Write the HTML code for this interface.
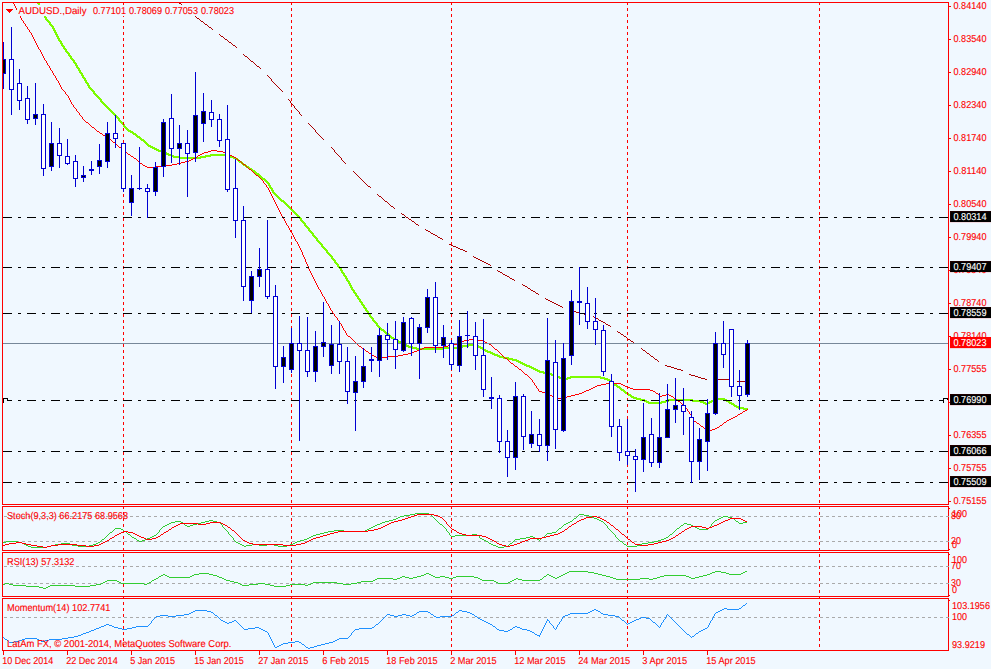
<!DOCTYPE html>
<html><head><meta charset="utf-8"><title>AUDUSD Daily</title>
<style>html,body{margin:0;padding:0;background:#F0F8FF;overflow:hidden}svg{display:block}</style>
</head><body>
<svg width="991" height="669" viewBox="0 0 991 669" shape-rendering="crispEdges">
<rect x="0" y="0" width="991" height="669" fill="#F0F8FF"/>
<path fill="#7CFC00" d="M37 3h3v1h-3zM38 4h2v1h-2zM38 5h3v1h-3zM39 6h2v1h-2zM39 7h3v1h-3zM40 8h2v1h-2zM40 9h3v1h-3zM41 10h2v1h-2zM41 11h3v1h-3zM42 12h2v1h-2zM42 13h3v1h-3zM43 14h2v1h-2zM43 15h3v1h-3zM44 16h2v1h-2zM44 17h3v1h-3zM45 18h2v1h-2zM45 19h3v1h-3zM46 20h3v1h-3zM47 21h3v1h-3zM48 22h3v1h-3zM49 23h2v1h-2zM49 24h3v1h-3zM50 25h3v1h-3zM51 26h3v1h-3zM52 27h2v1h-2zM52 28h3v1h-3zM53 29h2v1h-2zM53 30h3v1h-3zM54 31h2v1h-2zM54 32h3v1h-3zM55 33h2v1h-2zM55 34h3v1h-3zM56 35h2v1h-2zM56 36h3v1h-3zM57 37h2v1h-2zM57 38h3v1h-3zM58 39h2v1h-2zM58 40h3v1h-3zM59 41h3v1h-3zM60 42h2v1h-2zM60 43h3v1h-3zM61 44h2v1h-2zM61 45h3v1h-3zM62 46h3v1h-3zM63 47h2v1h-2zM63 48h3v1h-3zM64 49h3v1h-3zM65 50h2v1h-2zM65 51h3v1h-3zM66 52h3v1h-3zM67 53h3v1h-3zM68 54h2v1h-2zM68 55h3v1h-3zM69 56h3v1h-3zM70 57h2v1h-2zM70 58h3v1h-3zM71 59h3v1h-3zM72 60h3v1h-3zM73 61h2v1h-2zM73 62h3v1h-3zM74 63h3v1h-3zM75 64h2v1h-2zM75 65h3v1h-3zM76 66h2v1h-2zM76 67h3v1h-3zM77 68h3v1h-3zM78 69h2v1h-2zM78 70h3v1h-3zM79 71h2v1h-2zM79 72h3v1h-3zM80 73h3v1h-3zM81 74h2v1h-2zM81 75h3v1h-3zM82 76h2v1h-2zM82 77h3v1h-3zM83 78h3v1h-3zM84 79h2v1h-2zM84 80h3v1h-3zM85 81h2v1h-2zM85 82h3v1h-3zM86 83h3v1h-3zM87 84h2v1h-2zM87 85h3v1h-3zM88 86h2v1h-2zM88 87h3v1h-3zM89 88h3v1h-3zM90 89h3v1h-3zM91 90h3v1h-3zM92 91h3v1h-3zM93 92h2v1h-2zM93 93h3v1h-3zM94 94h3v1h-3zM95 95h3v1h-3zM96 96h3v1h-3zM97 97h3v1h-3zM98 98h3v1h-3zM99 99h3v1h-3zM100 100h2v1h-2zM100 101h3v1h-3zM101 102h3v1h-3zM102 103h3v1h-3zM103 104h3v1h-3zM104 105h3v1h-3zM105 106h3v1h-3zM106 107h3v1h-3zM107 108h3v1h-3zM108 109h3v1h-3zM109 110h3v1h-3zM110 111h3v1h-3zM111 112h3v1h-3zM112 113h3v1h-3zM113 114h3v1h-3zM114 115h3v1h-3zM115 116h3v1h-3zM116 117h3v1h-3zM117 118h3v1h-3zM118 119h2v1h-2zM118 120h3v1h-3zM119 121h3v1h-3zM120 122h3v1h-3zM121 123h3v1h-3zM122 124h3v1h-3zM123 125h2v1h-2zM123 126h3v1h-3zM124 127h3v1h-3zM125 128h3v1h-3zM126 129h3v1h-3zM127 130h4v1h-4zM128 131h5v1h-5zM130 132h4v1h-4zM132 133h4v1h-4zM133 134h4v1h-4zM135 135h3v1h-3zM136 136h4v1h-4zM137 137h4v1h-4zM139 138h3v1h-3zM140 139h4v1h-4zM141 140h4v1h-4zM143 141h3v1h-3zM144 142h3v1h-3zM145 143h3v1h-3zM146 144h3v1h-3zM147 145h4v1h-4zM148 146h5v1h-5zM150 147h5v1h-5zM152 148h5v1h-5zM154 149h5v1h-5zM156 150h6v1h-6zM158 151h6v1h-6zM161 152h6v1h-6zM163 153h6v1h-6zM166 154h6v1h-6zM210 154h17v1h-17zM168 155h6v1h-6zM205 155h26v1h-26zM171 156h9v1h-9zM200 156h11v1h-11zM226 156h8v1h-8zM173 157h33v1h-33zM230 157h6v1h-6zM179 158h22v1h-22zM233 158h5v1h-5zM235 159h4v1h-4zM237 160h3v1h-3zM238 161h4v1h-4zM239 162h4v1h-4zM241 163h3v1h-3zM242 164h4v1h-4zM243 165h4v1h-4zM245 166h4v1h-4zM246 167h4v1h-4zM248 168h4v1h-4zM249 169h4v1h-4zM251 170h4v1h-4zM252 171h4v1h-4zM254 172h3v1h-3zM255 173h4v1h-4zM256 174h4v1h-4zM258 175h3v1h-3zM259 176h3v1h-3zM260 177h3v1h-3zM261 178h4v1h-4zM262 179h4v1h-4zM264 180h3v1h-3zM265 181h3v1h-3zM266 182h3v1h-3zM267 183h3v1h-3zM268 184h2v1h-2zM268 185h3v1h-3zM269 186h2v1h-2zM269 187h3v1h-3zM270 188h3v1h-3zM271 189h2v1h-2zM271 190h3v1h-3zM272 191h2v1h-2zM272 192h3v1h-3zM273 193h3v1h-3zM274 194h3v1h-3zM275 195h3v1h-3zM276 196h3v1h-3zM277 197h3v1h-3zM278 198h3v1h-3zM279 199h3v1h-3zM280 200h4v1h-4zM281 201h4v1h-4zM283 202h3v1h-3zM284 203h3v1h-3zM285 204h3v1h-3zM286 205h3v1h-3zM287 206h3v1h-3zM288 207h3v1h-3zM289 208h3v1h-3zM290 209h3v1h-3zM291 210h3v1h-3zM292 211h3v1h-3zM293 212h3v1h-3zM294 213h3v1h-3zM295 214h3v1h-3zM296 215h3v1h-3zM297 216h3v1h-3zM298 217h3v1h-3zM299 218h3v1h-3zM300 219h2v1h-2zM300 220h3v1h-3zM301 221h3v1h-3zM302 222h3v1h-3zM303 223h3v1h-3zM304 224h2v1h-2zM304 225h3v1h-3zM305 226h3v1h-3zM306 227h3v1h-3zM307 228h3v1h-3zM308 229h2v1h-2zM308 230h3v1h-3zM309 231h3v1h-3zM310 232h3v1h-3zM311 233h3v1h-3zM312 234h2v1h-2zM312 235h3v1h-3zM313 236h3v1h-3zM314 237h3v1h-3zM315 238h3v1h-3zM316 239h2v1h-2zM316 240h3v1h-3zM317 241h3v1h-3zM318 242h3v1h-3zM319 243h3v1h-3zM320 244h3v1h-3zM321 245h2v1h-2zM321 246h3v1h-3zM322 247h3v1h-3zM323 248h3v1h-3zM324 249h3v1h-3zM325 250h3v1h-3zM326 251h2v1h-2zM326 252h3v1h-3zM327 253h3v1h-3zM328 254h3v1h-3zM329 255h3v1h-3zM330 256h3v1h-3zM331 257h2v1h-2zM331 258h3v1h-3zM332 259h3v1h-3zM333 260h3v1h-3zM334 261h2v1h-2zM334 262h3v1h-3zM335 263h3v1h-3zM336 264h3v1h-3zM337 265h2v1h-2zM337 266h3v1h-3zM338 267h3v1h-3zM339 268h3v1h-3zM340 269h2v1h-2zM340 270h3v1h-3zM341 271h2v1h-2zM341 272h3v1h-3zM342 273h3v1h-3zM343 274h2v1h-2zM343 275h3v1h-3zM344 276h3v1h-3zM345 277h2v1h-2zM345 278h3v1h-3zM346 279h2v1h-2zM346 280h3v1h-3zM347 281h3v1h-3zM348 282h2v1h-2zM348 283h3v1h-3zM349 284h2v1h-2zM349 285h3v1h-3zM350 286h2v1h-2zM350 287h3v1h-3zM351 288h2v1h-2zM351 289h3v1h-3zM352 290h3v1h-3zM353 291h2v1h-2zM353 292h3v1h-3zM354 293h3v1h-3zM355 294h2v1h-2zM355 295h3v1h-3zM356 296h3v1h-3zM357 297h2v1h-2zM357 298h3v1h-3zM358 299h3v1h-3zM359 300h2v1h-2zM359 301h3v1h-3zM360 302h3v1h-3zM361 303h2v1h-2zM361 304h3v1h-3zM362 305h3v1h-3zM363 306h2v1h-2zM363 307h3v1h-3zM364 308h3v1h-3zM365 309h2v1h-2zM365 310h3v1h-3zM366 311h3v1h-3zM367 312h2v1h-2zM367 313h3v1h-3zM368 314h3v1h-3zM369 315h2v1h-2zM369 316h3v1h-3zM370 317h3v1h-3zM371 318h3v1h-3zM372 319h2v1h-2zM372 320h3v1h-3zM373 321h3v1h-3zM374 322h3v1h-3zM375 323h3v1h-3zM376 324h2v1h-2zM376 325h3v1h-3zM377 326h3v1h-3zM378 327h3v1h-3zM379 328h3v1h-3zM380 329h4v1h-4zM381 330h4v1h-4zM383 331h3v1h-3zM384 332h3v1h-3zM385 333h4v1h-4zM386 334h4v1h-4zM388 335h3v1h-3zM389 336h3v1h-3zM390 337h4v1h-4zM391 338h4v1h-4zM393 339h4v1h-4zM394 340h5v1h-5zM396 341h5v1h-5zM398 342h5v1h-5zM400 343h5v1h-5zM402 344h5v1h-5zM468 344h7v1h-7zM404 345h5v1h-5zM462 345h17v1h-17zM406 346h7v1h-7zM457 346h12v1h-12zM474 346h7v1h-7zM408 347h9v1h-9zM443 347h20v1h-20zM478 347h5v1h-5zM412 348h46v1h-46zM480 348h4v1h-4zM416 349h28v1h-28zM482 349h4v1h-4zM483 350h5v1h-5zM485 351h6v1h-6zM487 352h6v1h-6zM490 353h5v1h-5zM492 354h6v1h-6zM494 355h6v1h-6zM497 356h7v1h-7zM499 357h10v1h-10zM503 358h10v1h-10zM508 359h9v1h-9zM512 360h7v1h-7zM516 361h5v1h-5zM518 362h5v1h-5zM520 363h5v1h-5zM522 364h5v1h-5zM524 365h6v1h-6zM526 366h6v1h-6zM529 367h5v1h-5zM531 368h5v1h-5zM533 369h5v1h-5zM535 370h5v1h-5zM537 371h7v1h-7zM539 372h9v1h-9zM543 373h9v1h-9zM547 374h8v1h-8zM551 375h7v1h-7zM554 376h6v1h-6zM570 376h31v1h-31zM557 377h5v1h-5zM567 377h38v1h-38zM559 378h12v1h-12zM600 378h8v1h-8zM561 379h7v1h-7zM604 379h6v1h-6zM607 380h4v1h-4zM609 381h4v1h-4zM610 382h4v1h-4zM612 383h3v1h-3zM613 384h4v1h-4zM614 385h4v1h-4zM616 386h4v1h-4zM617 387h4v1h-4zM619 388h3v1h-3zM620 389h4v1h-4zM621 390h4v1h-4zM623 391h3v1h-3zM624 392h4v1h-4zM625 393h4v1h-4zM627 394h4v1h-4zM628 395h4v1h-4zM630 396h4v1h-4zM631 397h6v1h-6zM633 398h8v1h-8zM716 398h9v1h-9zM636 399h9v1h-9zM668 399h25v1h-25zM713 399h14v1h-14zM640 400h7v1h-7zM665 400h36v1h-36zM711 400h6v1h-6zM724 400h5v1h-5zM644 401h5v1h-5zM661 401h8v1h-8zM692 401h12v1h-12zM709 401h5v1h-5zM726 401h4v1h-4zM646 402h20v1h-20zM700 402h6v1h-6zM707 402h5v1h-5zM728 402h4v1h-4zM648 403h14v1h-14zM703 403h7v1h-7zM729 403h5v1h-5zM705 404h3v1h-3zM731 404h4v1h-4zM733 405h4v1h-4zM734 406h5v1h-5zM736 407h8v1h-8zM738 408h10v1h-10zM743 409h5v1h-5z"/>
<path fill="#FF0000" d="M13 3h1v1h-1zM14 4h1v1h-1zM14 5h1v1h-1zM15 6h1v1h-1zM15 7h1v1h-1zM16 8h1v1h-1zM16 9h1v1h-1zM17 10h1v1h-1zM17 11h1v1h-1zM18 12h1v1h-1zM18 13h1v1h-1zM19 14h1v1h-1zM19 15h1v1h-1zM20 16h1v1h-1zM20 17h1v1h-1zM21 18h1v1h-1zM21 19h1v1h-1zM22 20h1v1h-1zM23 21h1v1h-1zM23 22h1v1h-1zM24 23h1v1h-1zM25 24h1v1h-1zM25 25h1v1h-1zM26 26h1v1h-1zM27 27h1v1h-1zM27 28h1v1h-1zM28 29h1v1h-1zM29 30h1v1h-1zM29 31h1v1h-1zM30 32h1v1h-1zM31 33h1v1h-1zM31 34h1v1h-1zM32 35h1v1h-1zM32 36h1v1h-1zM33 37h1v1h-1zM33 38h1v1h-1zM34 39h1v1h-1zM34 40h1v1h-1zM35 41h1v1h-1zM35 42h1v1h-1zM36 43h1v1h-1zM36 44h1v1h-1zM37 45h1v1h-1zM37 46h1v1h-1zM38 47h1v1h-1zM38 48h1v1h-1zM39 49h1v1h-1zM40 50h1v1h-1zM40 51h1v1h-1zM41 52h1v1h-1zM41 53h1v1h-1zM42 54h1v1h-1zM42 55h1v1h-1zM43 56h1v1h-1zM43 57h1v1h-1zM44 58h1v1h-1zM44 59h1v1h-1zM45 60h1v1h-1zM46 61h1v1h-1zM46 62h1v1h-1zM47 63h1v1h-1zM47 64h1v1h-1zM48 65h1v1h-1zM49 66h1v1h-1zM49 67h1v1h-1zM50 68h1v1h-1zM50 69h1v1h-1zM51 70h1v1h-1zM52 71h1v1h-1zM52 72h1v1h-1zM53 73h1v1h-1zM53 74h1v1h-1zM54 75h1v1h-1zM55 76h1v1h-1zM55 77h1v1h-1zM56 78h1v1h-1zM56 79h1v1h-1zM57 80h1v1h-1zM58 81h1v1h-1zM58 82h1v1h-1zM59 83h1v1h-1zM59 84h1v1h-1zM60 85h1v1h-1zM60 86h1v1h-1zM61 87h1v1h-1zM61 88h1v1h-1zM62 89h1v1h-1zM63 90h1v1h-1zM64 91h1v1h-1zM65 92h1v1h-1zM65 93h1v1h-1zM66 94h1v1h-1zM67 95h1v1h-1zM68 96h1v1h-1zM68 97h1v1h-1zM69 98h1v1h-1zM69 99h1v1h-1zM70 100h1v1h-1zM70 101h1v1h-1zM71 102h1v1h-1zM71 103h1v1h-1zM72 104h1v1h-1zM73 105h1v1h-1zM73 106h1v1h-1zM74 107h1v1h-1zM75 108h1v1h-1zM76 109h1v1h-1zM76 110h1v1h-1zM77 111h1v1h-1zM78 112h1v1h-1zM79 113h1v1h-1zM79 114h1v1h-1zM80 115h1v1h-1zM81 116h1v1h-1zM82 117h1v1h-1zM82 118h1v1h-1zM83 119h1v1h-1zM84 120h1v1h-1zM85 121h1v1h-1zM86 122h2v1h-2zM88 123h1v1h-1zM89 124h1v1h-1zM90 125h1v1h-1zM91 126h1v1h-1zM92 127h2v1h-2zM94 128h1v1h-1zM95 129h1v1h-1zM96 130h1v1h-1zM97 131h2v1h-2zM99 132h1v1h-1zM100 133h2v1h-2zM102 134h1v1h-1zM103 135h2v1h-2zM105 136h1v1h-1zM106 137h2v1h-2zM108 138h1v1h-1zM109 139h2v1h-2zM111 140h1v1h-1zM112 141h1v1h-1zM113 142h2v1h-2zM115 143h1v1h-1zM116 144h1v1h-1zM117 145h1v1h-1zM118 146h1v1h-1zM119 147h2v1h-2zM121 148h1v1h-1zM122 149h1v1h-1zM123 150h1v1h-1zM211 150h6v1h-6zM124 151h1v1h-1zM208 151h3v1h-3zM217 151h6v1h-6zM125 152h2v1h-2zM204 152h4v1h-4zM223 152h2v1h-2zM127 153h1v1h-1zM202 153h2v1h-2zM225 153h3v1h-3zM128 154h2v1h-2zM200 154h2v1h-2zM228 154h2v1h-2zM130 155h1v1h-1zM198 155h2v1h-2zM230 155h2v1h-2zM131 156h2v1h-2zM197 156h1v1h-1zM232 156h2v1h-2zM133 157h1v1h-1zM195 157h2v1h-2zM234 157h2v1h-2zM134 158h2v1h-2zM193 158h2v1h-2zM236 158h1v1h-1zM136 159h1v1h-1zM191 159h2v1h-2zM237 159h1v1h-1zM137 160h1v1h-1zM189 160h2v1h-2zM238 160h2v1h-2zM138 161h1v1h-1zM185 161h4v1h-4zM240 161h1v1h-1zM139 162h1v1h-1zM181 162h4v1h-4zM241 162h1v1h-1zM140 163h2v1h-2zM177 163h4v1h-4zM242 163h1v1h-1zM142 164h1v1h-1zM172 164h5v1h-5zM243 164h2v1h-2zM143 165h2v1h-2zM164 165h8v1h-8zM245 165h1v1h-1zM145 166h2v1h-2zM155 166h9v1h-9zM246 166h1v1h-1zM147 167h8v1h-8zM247 167h1v1h-1zM248 168h1v1h-1zM249 169h2v1h-2zM251 170h1v1h-1zM252 171h1v1h-1zM253 172h1v1h-1zM254 173h1v1h-1zM255 174h1v1h-1zM256 175h2v1h-2zM258 176h1v1h-1zM259 177h1v1h-1zM260 178h1v1h-1zM261 179h1v1h-1zM262 180h1v1h-1zM263 181h1v1h-1zM263 182h1v1h-1zM264 183h1v1h-1zM265 184h1v1h-1zM266 185h1v1h-1zM266 186h1v1h-1zM267 187h1v1h-1zM268 188h1v1h-1zM268 189h1v1h-1zM269 190h1v1h-1zM269 191h1v1h-1zM270 192h1v1h-1zM270 193h1v1h-1zM271 194h1v1h-1zM271 195h1v1h-1zM272 196h1v1h-1zM272 197h1v1h-1zM273 198h1v1h-1zM273 199h1v1h-1zM274 200h1v1h-1zM274 201h1v1h-1zM275 202h1v1h-1zM275 203h1v1h-1zM276 204h1v1h-1zM276 205h1v1h-1zM277 206h1v1h-1zM277 207h1v1h-1zM278 208h1v1h-1zM278 209h1v1h-1zM279 210h1v1h-1zM279 211h1v1h-1zM280 212h1v1h-1zM280 213h1v1h-1zM281 214h1v1h-1zM281 215h1v1h-1zM282 216h1v1h-1zM283 217h1v1h-1zM283 218h1v1h-1zM284 219h1v1h-1zM284 220h1v1h-1zM285 221h1v1h-1zM285 222h1v1h-1zM286 223h1v1h-1zM286 224h1v1h-1zM287 225h1v1h-1zM288 226h1v1h-1zM288 227h1v1h-1zM289 228h1v1h-1zM289 229h1v1h-1zM290 230h1v1h-1zM290 231h1v1h-1zM291 232h1v1h-1zM292 233h1v1h-1zM292 234h1v1h-1zM293 235h1v1h-1zM293 236h1v1h-1zM294 237h1v1h-1zM294 238h1v1h-1zM295 239h1v1h-1zM295 240h1v1h-1zM296 241h1v1h-1zM297 242h1v1h-1zM297 243h1v1h-1zM298 244h1v1h-1zM298 245h1v1h-1zM299 246h1v1h-1zM299 247h1v1h-1zM300 248h1v1h-1zM300 249h1v1h-1zM301 250h1v1h-1zM301 251h1v1h-1zM302 252h1v1h-1zM302 253h1v1h-1zM302 254h1v1h-1zM303 255h1v1h-1zM303 256h1v1h-1zM304 257h1v1h-1zM304 258h1v1h-1zM305 259h1v1h-1zM305 260h1v1h-1zM305 261h1v1h-1zM306 262h1v1h-1zM306 263h1v1h-1zM307 264h1v1h-1zM307 265h1v1h-1zM308 266h1v1h-1zM308 267h1v1h-1zM308 268h1v1h-1zM309 269h1v1h-1zM309 270h1v1h-1zM310 271h1v1h-1zM310 272h1v1h-1zM311 273h1v1h-1zM311 274h1v1h-1zM312 275h1v1h-1zM312 276h1v1h-1zM313 277h1v1h-1zM313 278h1v1h-1zM314 279h1v1h-1zM314 280h1v1h-1zM315 281h1v1h-1zM315 282h1v1h-1zM316 283h1v1h-1zM316 284h1v1h-1zM317 285h1v1h-1zM317 286h1v1h-1zM318 287h1v1h-1zM318 288h1v1h-1zM319 289h1v1h-1zM320 290h1v1h-1zM320 291h1v1h-1zM321 292h1v1h-1zM321 293h1v1h-1zM322 294h1v1h-1zM322 295h1v1h-1zM323 296h1v1h-1zM324 297h1v1h-1zM324 298h1v1h-1zM325 299h1v1h-1zM325 300h1v1h-1zM326 301h1v1h-1zM326 302h1v1h-1zM327 303h1v1h-1zM328 304h1v1h-1zM328 305h1v1h-1zM329 306h1v1h-1zM329 307h1v1h-1zM330 308h1v1h-1zM330 309h1v1h-1zM331 310h1v1h-1zM332 311h1v1h-1zM332 312h1v1h-1zM333 313h1v1h-1zM334 314h1v1h-1zM334 315h1v1h-1zM335 316h1v1h-1zM336 317h1v1h-1zM337 318h1v1h-1zM337 319h1v1h-1zM338 320h1v1h-1zM339 321h1v1h-1zM339 322h1v1h-1zM340 323h1v1h-1zM341 324h1v1h-1zM341 325h1v1h-1zM342 326h1v1h-1zM342 327h1v1h-1zM343 328h1v1h-1zM343 329h1v1h-1zM344 330h1v1h-1zM345 331h1v1h-1zM345 332h1v1h-1zM346 333h1v1h-1zM346 334h1v1h-1zM347 335h1v1h-1zM348 336h2v1h-2zM350 337h1v1h-1zM351 338h1v1h-1zM352 339h1v1h-1zM469 339h8v1h-8zM353 340h1v1h-1zM464 340h5v1h-5zM477 340h6v1h-6zM354 341h1v1h-1zM462 341h2v1h-2zM483 341h2v1h-2zM355 342h1v1h-1zM459 342h3v1h-3zM485 342h2v1h-2zM356 343h1v1h-1zM457 343h2v1h-2zM487 343h2v1h-2zM357 344h1v1h-1zM453 344h4v1h-4zM489 344h2v1h-2zM358 345h1v1h-1zM448 345h5v1h-5zM491 345h1v1h-1zM359 346h2v1h-2zM443 346h5v1h-5zM492 346h1v1h-1zM361 347h1v1h-1zM424 347h19v1h-19zM493 347h1v1h-1zM362 348h1v1h-1zM422 348h2v1h-2zM494 348h1v1h-1zM363 349h2v1h-2zM419 349h3v1h-3zM495 349h2v1h-2zM365 350h1v1h-1zM417 350h2v1h-2zM497 350h1v1h-1zM366 351h2v1h-2zM414 351h3v1h-3zM498 351h1v1h-1zM368 352h1v1h-1zM412 352h2v1h-2zM499 352h1v1h-1zM369 353h2v1h-2zM408 353h4v1h-4zM500 353h1v1h-1zM371 354h1v1h-1zM403 354h5v1h-5zM501 354h1v1h-1zM372 355h2v1h-2zM398 355h5v1h-5zM502 355h1v1h-1zM374 356h2v1h-2zM387 356h11v1h-11zM503 356h1v1h-1zM376 357h11v1h-11zM504 357h1v1h-1zM505 358h2v1h-2zM507 359h1v1h-1zM508 360h1v1h-1zM509 361h1v1h-1zM510 362h1v1h-1zM511 363h2v1h-2zM513 364h1v1h-1zM514 365h1v1h-1zM515 366h2v1h-2zM517 367h1v1h-1zM518 368h1v1h-1zM519 369h2v1h-2zM521 370h1v1h-1zM522 371h1v1h-1zM523 372h1v1h-1zM524 373h1v1h-1zM525 374h2v1h-2zM527 375h1v1h-1zM528 376h1v1h-1zM529 377h1v1h-1zM530 378h1v1h-1zM531 379h1v1h-1zM532 380h1v1h-1zM532 381h1v1h-1zM533 382h1v1h-1zM534 383h1v1h-1zM606 383h15v1h-15zM534 384h1v1h-1zM601 384h5v1h-5zM621 384h2v1h-2zM535 385h1v1h-1zM597 385h4v1h-4zM623 385h2v1h-2zM536 386h1v1h-1zM595 386h2v1h-2zM625 386h2v1h-2zM536 387h1v1h-1zM593 387h2v1h-2zM627 387h3v1h-3zM537 388h1v1h-1zM591 388h2v1h-2zM630 388h3v1h-3zM538 389h1v1h-1zM589 389h2v1h-2zM633 389h17v1h-17zM538 390h1v1h-1zM586 390h3v1h-3zM650 390h3v1h-3zM539 391h3v1h-3zM584 391h2v1h-2zM653 391h2v1h-2zM542 392h4v1h-4zM582 392h2v1h-2zM655 392h1v1h-1zM546 393h2v1h-2zM579 393h3v1h-3zM656 393h2v1h-2zM548 394h2v1h-2zM575 394h4v1h-4zM658 394h1v1h-1zM666 394h3v1h-3zM550 395h2v1h-2zM571 395h4v1h-4zM659 395h1v1h-1zM662 395h4v1h-4zM669 395h2v1h-2zM552 396h2v1h-2zM567 396h4v1h-4zM660 396h2v1h-2zM671 396h2v1h-2zM554 397h2v1h-2zM564 397h3v1h-3zM673 397h1v1h-1zM556 398h8v1h-8zM674 398h2v1h-2zM676 399h1v1h-1zM677 400h1v1h-1zM678 401h2v1h-2zM680 402h1v1h-1zM681 403h1v1h-1zM682 404h2v1h-2zM684 405h1v1h-1zM685 406h1v1h-1zM685 407h1v1h-1zM686 408h1v1h-1zM687 409h1v1h-1zM747 409h1v1h-1zM687 410h1v1h-1zM745 410h2v1h-2zM688 411h1v1h-1zM743 411h2v1h-2zM689 412h1v1h-1zM742 412h1v1h-1zM689 413h1v1h-1zM740 413h2v1h-2zM690 414h1v1h-1zM738 414h2v1h-2zM691 415h1v1h-1zM737 415h1v1h-1zM691 416h1v1h-1zM735 416h2v1h-2zM692 417h1v1h-1zM733 417h2v1h-2zM692 418h1v1h-1zM731 418h2v1h-2zM693 419h1v1h-1zM729 419h2v1h-2zM693 420h1v1h-1zM727 420h2v1h-2zM694 421h2v1h-2zM726 421h1v1h-1zM696 422h1v1h-1zM724 422h2v1h-2zM697 423h2v1h-2zM723 423h1v1h-1zM699 424h1v1h-1zM722 424h1v1h-1zM700 425h1v1h-1zM720 425h2v1h-2zM701 426h2v1h-2zM719 426h1v1h-1zM703 427h1v1h-1zM717 427h2v1h-2zM704 428h1v1h-1zM715 428h2v1h-2zM705 429h3v1h-3zM712 429h3v1h-3zM708 430h4v1h-4z"/>
<path fill="#AA0000" d="M179 3h2v1h-2zM181 4h1v1h-1zM182 5h1v1h-1zM183 6h1v1h-1zM184 7h1v1h-1zM185 8h2v1h-2zM187 9h1v1h-1zM188 10h1v1h-1zM195 16h1v1h-1zM196 17h1v1h-1zM197 18h2v1h-2zM199 19h1v1h-1zM200 20h1v1h-1zM201 21h2v1h-2zM203 22h1v1h-1zM204 23h1v1h-1zM205 24h2v1h-2zM207 25h1v1h-1zM208 26h1v1h-1zM209 27h2v1h-2zM211 28h1v1h-1zM212 29h1v1h-1zM219 34h1v1h-1zM220 35h1v1h-1zM221 36h2v1h-2zM223 37h1v1h-1zM224 38h1v1h-1zM225 39h2v1h-2zM227 40h1v1h-1zM228 41h1v1h-1zM229 42h2v1h-2zM231 43h1v1h-1zM232 44h1v1h-1zM233 45h2v1h-2zM235 46h1v1h-1zM236 47h1v1h-1zM243 54h1v1h-1zM244 55h1v1h-1zM245 56h2v1h-2zM247 57h1v1h-1zM248 58h1v1h-1zM249 59h1v1h-1zM250 60h1v1h-1zM251 61h2v1h-2zM253 62h1v1h-1zM254 63h1v1h-1zM255 64h1v1h-1zM256 65h1v1h-1zM257 66h2v1h-2zM259 67h1v1h-1zM260 68h1v1h-1zM267 75h1v1h-1zM268 76h1v1h-1zM269 77h1v1h-1zM270 78h1v1h-1zM271 79h1v1h-1zM271 80h1v1h-1zM272 81h1v1h-1zM273 82h1v1h-1zM274 83h1v1h-1zM275 84h1v1h-1zM276 85h1v1h-1zM277 86h1v1h-1zM278 87h1v1h-1zM279 88h1v1h-1zM280 89h1v1h-1zM281 90h1v1h-1zM282 91h1v1h-1zM288 99h1v1h-1zM289 100h1v1h-1zM290 101h1v1h-1zM290 102h1v1h-1zM291 103h1v1h-1zM292 104h1v1h-1zM293 105h1v1h-1zM294 106h1v1h-1zM294 107h1v1h-1zM295 108h1v1h-1zM296 109h1v1h-1zM297 110h1v1h-1zM298 111h1v1h-1zM299 112h1v1h-1zM299 113h1v1h-1zM300 114h1v1h-1zM301 115h1v1h-1zM308 123h1v1h-1zM309 124h1v1h-1zM310 125h1v1h-1zM311 126h1v1h-1zM312 127h1v1h-1zM313 128h1v1h-1zM314 129h1v1h-1zM315 130h1v1h-1zM315 131h1v1h-1zM316 132h1v1h-1zM317 133h1v1h-1zM318 134h1v1h-1zM319 135h1v1h-1zM320 136h1v1h-1zM321 137h1v1h-1zM322 138h1v1h-1zM323 139h1v1h-1zM331 147h1v1h-1zM332 148h1v1h-1zM333 149h1v1h-1zM334 150h1v1h-1zM334 151h1v1h-1zM335 152h1v1h-1zM336 153h1v1h-1zM337 154h1v1h-1zM338 155h1v1h-1zM339 156h1v1h-1zM340 157h1v1h-1zM341 158h1v1h-1zM341 159h1v1h-1zM342 160h1v1h-1zM343 161h1v1h-1zM344 162h1v1h-1zM345 163h1v1h-1zM353 171h1v1h-1zM354 172h1v1h-1zM355 173h1v1h-1zM356 174h1v1h-1zM357 175h1v1h-1zM358 176h1v1h-1zM359 177h1v1h-1zM360 178h1v1h-1zM361 179h1v1h-1zM362 180h1v1h-1zM363 181h1v1h-1zM364 182h1v1h-1zM365 183h1v1h-1zM366 184h1v1h-1zM367 185h1v1h-1zM368 186h2v1h-2zM370 187h1v1h-1zM377 194h1v1h-1zM378 195h1v1h-1zM379 196h2v1h-2zM381 197h1v1h-1zM382 198h1v1h-1zM383 199h1v1h-1zM384 200h1v1h-1zM385 201h2v1h-2zM387 202h1v1h-1zM388 203h1v1h-1zM389 204h1v1h-1zM390 205h1v1h-1zM391 206h2v1h-2zM393 207h1v1h-1zM394 208h1v1h-1zM401 213h1v1h-1zM402 214h2v1h-2zM404 215h1v1h-1zM405 216h1v1h-1zM406 217h2v1h-2zM408 218h1v1h-1zM409 219h2v1h-2zM411 220h1v1h-1zM412 221h2v1h-2zM414 222h1v1h-1zM415 223h1v1h-1zM416 224h2v1h-2zM418 225h1v1h-1zM425 229h1v1h-1zM426 230h2v1h-2zM428 231h2v1h-2zM430 232h1v1h-1zM431 233h2v1h-2zM433 234h2v1h-2zM435 235h2v1h-2zM437 236h1v1h-1zM438 237h2v1h-2zM440 238h2v1h-2zM442 239h1v1h-1zM449 244h2v1h-2zM451 245h2v1h-2zM453 246h3v1h-3zM456 247h2v1h-2zM458 248h2v1h-2zM460 249h3v1h-3zM463 250h2v1h-2zM465 251h2v1h-2zM473 256h1v1h-1zM474 257h2v1h-2zM476 258h2v1h-2zM478 259h2v1h-2zM480 260h2v1h-2zM482 261h2v1h-2zM484 262h2v1h-2zM486 263h2v1h-2zM488 264h2v1h-2zM490 265h1v1h-1zM497 270h1v1h-1zM498 271h2v1h-2zM500 272h2v1h-2zM502 273h1v1h-1zM503 274h2v1h-2zM505 275h2v1h-2zM507 276h2v1h-2zM509 277h1v1h-1zM510 278h2v1h-2zM512 279h2v1h-2zM514 280h1v1h-1zM522 284h1v1h-1zM523 285h2v1h-2zM525 286h2v1h-2zM527 287h1v1h-1zM528 288h2v1h-2zM530 289h1v1h-1zM531 290h2v1h-2zM533 291h2v1h-2zM535 292h1v1h-1zM536 293h2v1h-2zM538 294h1v1h-1zM545 298h1v1h-1zM546 299h2v1h-2zM548 300h2v1h-2zM550 301h2v1h-2zM552 302h2v1h-2zM554 303h2v1h-2zM556 304h2v1h-2zM558 305h2v1h-2zM560 306h2v1h-2zM562 307h1v1h-1zM569 310h3v1h-3zM572 311h4v1h-4zM576 312h4v1h-4zM580 313h4v1h-4zM584 314h3v1h-3zM593 316h1v1h-1zM594 317h2v1h-2zM596 318h2v1h-2zM598 319h1v1h-1zM599 320h2v1h-2zM601 321h2v1h-2zM603 322h2v1h-2zM605 323h1v1h-1zM606 324h2v1h-2zM608 325h2v1h-2zM610 326h1v1h-1zM617 331h1v1h-1zM618 332h2v1h-2zM620 333h1v1h-1zM621 334h2v1h-2zM623 335h1v1h-1zM624 336h2v1h-2zM626 337h1v1h-1zM627 338h1v1h-1zM628 339h2v1h-2zM630 340h1v1h-1zM631 341h2v1h-2zM633 342h1v1h-1zM641 348h1v1h-1zM642 349h1v1h-1zM643 350h2v1h-2zM645 351h1v1h-1zM646 352h1v1h-1zM647 353h2v1h-2zM649 354h1v1h-1zM650 355h1v1h-1zM651 356h2v1h-2zM653 357h1v1h-1zM654 358h1v1h-1zM655 359h2v1h-2zM657 360h1v1h-1zM658 361h1v1h-1zM665 365h2v1h-2zM667 366h4v1h-4zM671 367h3v1h-3zM674 368h3v1h-3zM677 369h4v1h-4zM681 370h2v1h-2zM689 374h2v1h-2zM691 375h4v1h-4zM695 376h3v1h-3zM698 377h3v1h-3zM701 378h4v1h-4zM705 379h2v1h-2zM716 379h15v1h-15zM713 380h3v1h-3zM737 381h11v1h-11z"/>
<rect x="3" y="343" width="945" height="1" fill="#778899"/>
<path fill="#FF0000" d="M123 2h1v3h-1zM123 8h1v3h-1zM123 14h1v3h-1zM123 20h1v3h-1zM123 26h1v3h-1zM123 32h1v3h-1zM123 38h1v3h-1zM123 44h1v3h-1zM123 50h1v3h-1zM123 56h1v3h-1zM123 62h1v3h-1zM123 68h1v3h-1zM123 74h1v3h-1zM123 80h1v3h-1zM123 86h1v3h-1zM123 92h1v3h-1zM123 98h1v3h-1zM123 104h1v3h-1zM123 110h1v3h-1zM123 116h1v3h-1zM123 122h1v3h-1zM123 128h1v3h-1zM123 134h1v3h-1zM123 140h1v3h-1zM123 146h1v3h-1zM123 152h1v3h-1zM123 158h1v3h-1zM123 164h1v3h-1zM123 170h1v3h-1zM123 176h1v3h-1zM123 182h1v3h-1zM123 188h1v3h-1zM123 194h1v3h-1zM123 200h1v3h-1zM123 206h1v3h-1zM123 212h1v3h-1zM123 218h1v3h-1zM123 224h1v3h-1zM123 230h1v3h-1zM123 236h1v3h-1zM123 242h1v3h-1zM123 248h1v3h-1zM123 254h1v3h-1zM123 260h1v3h-1zM123 266h1v3h-1zM123 272h1v3h-1zM123 278h1v3h-1zM123 284h1v3h-1zM123 290h1v3h-1zM123 296h1v3h-1zM123 302h1v3h-1zM123 308h1v3h-1zM123 314h1v3h-1zM123 320h1v3h-1zM123 326h1v3h-1zM123 332h1v3h-1zM123 338h1v3h-1zM123 344h1v3h-1zM123 350h1v3h-1zM123 356h1v3h-1zM123 362h1v3h-1zM123 368h1v3h-1zM123 374h1v3h-1zM123 380h1v3h-1zM123 386h1v3h-1zM123 392h1v3h-1zM123 398h1v3h-1zM123 404h1v3h-1zM123 410h1v3h-1zM123 416h1v3h-1zM123 422h1v3h-1zM123 428h1v3h-1zM123 434h1v3h-1zM123 440h1v3h-1zM123 446h1v3h-1zM123 452h1v3h-1zM123 458h1v3h-1zM123 464h1v3h-1zM123 470h1v3h-1zM123 476h1v3h-1zM123 482h1v3h-1zM123 488h1v3h-1zM123 494h1v3h-1zM123 500h1v3h-1zM123 506h1v3h-1zM123 512h1v3h-1zM123 518h1v3h-1zM123 524h1v3h-1zM123 530h1v3h-1zM123 536h1v3h-1zM123 542h1v3h-1zM123 548h1v3h-1zM123 554h1v3h-1zM123 560h1v3h-1zM123 566h1v3h-1zM123 572h1v3h-1zM123 578h1v3h-1zM123 584h1v3h-1zM123 590h1v3h-1zM123 596h1v3h-1zM123 602h1v3h-1zM123 608h1v3h-1zM123 614h1v3h-1zM123 620h1v3h-1zM123 626h1v3h-1zM123 632h1v3h-1zM123 638h1v3h-1zM123 644h1v3h-1zM123 650h1v1h-1zM291 2h1v3h-1zM291 8h1v3h-1zM291 14h1v3h-1zM291 20h1v3h-1zM291 26h1v3h-1zM291 32h1v3h-1zM291 38h1v3h-1zM291 44h1v3h-1zM291 50h1v3h-1zM291 56h1v3h-1zM291 62h1v3h-1zM291 68h1v3h-1zM291 74h1v3h-1zM291 80h1v3h-1zM291 86h1v3h-1zM291 92h1v3h-1zM291 98h1v3h-1zM291 104h1v3h-1zM291 110h1v3h-1zM291 116h1v3h-1zM291 122h1v3h-1zM291 128h1v3h-1zM291 134h1v3h-1zM291 140h1v3h-1zM291 146h1v3h-1zM291 152h1v3h-1zM291 158h1v3h-1zM291 164h1v3h-1zM291 170h1v3h-1zM291 176h1v3h-1zM291 182h1v3h-1zM291 188h1v3h-1zM291 194h1v3h-1zM291 200h1v3h-1zM291 206h1v3h-1zM291 212h1v3h-1zM291 218h1v3h-1zM291 224h1v3h-1zM291 230h1v3h-1zM291 236h1v3h-1zM291 242h1v3h-1zM291 248h1v3h-1zM291 254h1v3h-1zM291 260h1v3h-1zM291 266h1v3h-1zM291 272h1v3h-1zM291 278h1v3h-1zM291 284h1v3h-1zM291 290h1v3h-1zM291 296h1v3h-1zM291 302h1v3h-1zM291 308h1v3h-1zM291 314h1v3h-1zM291 320h1v3h-1zM291 326h1v3h-1zM291 332h1v3h-1zM291 338h1v3h-1zM291 344h1v3h-1zM291 350h1v3h-1zM291 356h1v3h-1zM291 362h1v3h-1zM291 368h1v3h-1zM291 374h1v3h-1zM291 380h1v3h-1zM291 386h1v3h-1zM291 392h1v3h-1zM291 398h1v3h-1zM291 404h1v3h-1zM291 410h1v3h-1zM291 416h1v3h-1zM291 422h1v3h-1zM291 428h1v3h-1zM291 434h1v3h-1zM291 440h1v3h-1zM291 446h1v3h-1zM291 452h1v3h-1zM291 458h1v3h-1zM291 464h1v3h-1zM291 470h1v3h-1zM291 476h1v3h-1zM291 482h1v3h-1zM291 488h1v3h-1zM291 494h1v3h-1zM291 500h1v3h-1zM291 506h1v3h-1zM291 512h1v3h-1zM291 518h1v3h-1zM291 524h1v3h-1zM291 530h1v3h-1zM291 536h1v3h-1zM291 542h1v3h-1zM291 548h1v3h-1zM291 554h1v3h-1zM291 560h1v3h-1zM291 566h1v3h-1zM291 572h1v3h-1zM291 578h1v3h-1zM291 584h1v3h-1zM291 590h1v3h-1zM291 596h1v3h-1zM291 602h1v3h-1zM291 608h1v3h-1zM291 614h1v3h-1zM291 620h1v3h-1zM291 626h1v3h-1zM291 632h1v3h-1zM291 638h1v3h-1zM291 644h1v3h-1zM291 650h1v1h-1zM451 2h1v3h-1zM451 8h1v3h-1zM451 14h1v3h-1zM451 20h1v3h-1zM451 26h1v3h-1zM451 32h1v3h-1zM451 38h1v3h-1zM451 44h1v3h-1zM451 50h1v3h-1zM451 56h1v3h-1zM451 62h1v3h-1zM451 68h1v3h-1zM451 74h1v3h-1zM451 80h1v3h-1zM451 86h1v3h-1zM451 92h1v3h-1zM451 98h1v3h-1zM451 104h1v3h-1zM451 110h1v3h-1zM451 116h1v3h-1zM451 122h1v3h-1zM451 128h1v3h-1zM451 134h1v3h-1zM451 140h1v3h-1zM451 146h1v3h-1zM451 152h1v3h-1zM451 158h1v3h-1zM451 164h1v3h-1zM451 170h1v3h-1zM451 176h1v3h-1zM451 182h1v3h-1zM451 188h1v3h-1zM451 194h1v3h-1zM451 200h1v3h-1zM451 206h1v3h-1zM451 212h1v3h-1zM451 218h1v3h-1zM451 224h1v3h-1zM451 230h1v3h-1zM451 236h1v3h-1zM451 242h1v3h-1zM451 248h1v3h-1zM451 254h1v3h-1zM451 260h1v3h-1zM451 266h1v3h-1zM451 272h1v3h-1zM451 278h1v3h-1zM451 284h1v3h-1zM451 290h1v3h-1zM451 296h1v3h-1zM451 302h1v3h-1zM451 308h1v3h-1zM451 314h1v3h-1zM451 320h1v3h-1zM451 326h1v3h-1zM451 332h1v3h-1zM451 338h1v3h-1zM451 344h1v3h-1zM451 350h1v3h-1zM451 356h1v3h-1zM451 362h1v3h-1zM451 368h1v3h-1zM451 374h1v3h-1zM451 380h1v3h-1zM451 386h1v3h-1zM451 392h1v3h-1zM451 398h1v3h-1zM451 404h1v3h-1zM451 410h1v3h-1zM451 416h1v3h-1zM451 422h1v3h-1zM451 428h1v3h-1zM451 434h1v3h-1zM451 440h1v3h-1zM451 446h1v3h-1zM451 452h1v3h-1zM451 458h1v3h-1zM451 464h1v3h-1zM451 470h1v3h-1zM451 476h1v3h-1zM451 482h1v3h-1zM451 488h1v3h-1zM451 494h1v3h-1zM451 500h1v3h-1zM451 506h1v3h-1zM451 512h1v3h-1zM451 518h1v3h-1zM451 524h1v3h-1zM451 530h1v3h-1zM451 536h1v3h-1zM451 542h1v3h-1zM451 548h1v3h-1zM451 554h1v3h-1zM451 560h1v3h-1zM451 566h1v3h-1zM451 572h1v3h-1zM451 578h1v3h-1zM451 584h1v3h-1zM451 590h1v3h-1zM451 596h1v3h-1zM451 602h1v3h-1zM451 608h1v3h-1zM451 614h1v3h-1zM451 620h1v3h-1zM451 626h1v3h-1zM451 632h1v3h-1zM451 638h1v3h-1zM451 644h1v3h-1zM451 650h1v1h-1zM627 2h1v3h-1zM627 8h1v3h-1zM627 14h1v3h-1zM627 20h1v3h-1zM627 26h1v3h-1zM627 32h1v3h-1zM627 38h1v3h-1zM627 44h1v3h-1zM627 50h1v3h-1zM627 56h1v3h-1zM627 62h1v3h-1zM627 68h1v3h-1zM627 74h1v3h-1zM627 80h1v3h-1zM627 86h1v3h-1zM627 92h1v3h-1zM627 98h1v3h-1zM627 104h1v3h-1zM627 110h1v3h-1zM627 116h1v3h-1zM627 122h1v3h-1zM627 128h1v3h-1zM627 134h1v3h-1zM627 140h1v3h-1zM627 146h1v3h-1zM627 152h1v3h-1zM627 158h1v3h-1zM627 164h1v3h-1zM627 170h1v3h-1zM627 176h1v3h-1zM627 182h1v3h-1zM627 188h1v3h-1zM627 194h1v3h-1zM627 200h1v3h-1zM627 206h1v3h-1zM627 212h1v3h-1zM627 218h1v3h-1zM627 224h1v3h-1zM627 230h1v3h-1zM627 236h1v3h-1zM627 242h1v3h-1zM627 248h1v3h-1zM627 254h1v3h-1zM627 260h1v3h-1zM627 266h1v3h-1zM627 272h1v3h-1zM627 278h1v3h-1zM627 284h1v3h-1zM627 290h1v3h-1zM627 296h1v3h-1zM627 302h1v3h-1zM627 308h1v3h-1zM627 314h1v3h-1zM627 320h1v3h-1zM627 326h1v3h-1zM627 332h1v3h-1zM627 338h1v3h-1zM627 344h1v3h-1zM627 350h1v3h-1zM627 356h1v3h-1zM627 362h1v3h-1zM627 368h1v3h-1zM627 374h1v3h-1zM627 380h1v3h-1zM627 386h1v3h-1zM627 392h1v3h-1zM627 398h1v3h-1zM627 404h1v3h-1zM627 410h1v3h-1zM627 416h1v3h-1zM627 422h1v3h-1zM627 428h1v3h-1zM627 434h1v3h-1zM627 440h1v3h-1zM627 446h1v3h-1zM627 452h1v3h-1zM627 458h1v3h-1zM627 464h1v3h-1zM627 470h1v3h-1zM627 476h1v3h-1zM627 482h1v3h-1zM627 488h1v3h-1zM627 494h1v3h-1zM627 500h1v3h-1zM627 506h1v3h-1zM627 512h1v3h-1zM627 518h1v3h-1zM627 524h1v3h-1zM627 530h1v3h-1zM627 536h1v3h-1zM627 542h1v3h-1zM627 548h1v3h-1zM627 554h1v3h-1zM627 560h1v3h-1zM627 566h1v3h-1zM627 572h1v3h-1zM627 578h1v3h-1zM627 584h1v3h-1zM627 590h1v3h-1zM627 596h1v3h-1zM627 602h1v3h-1zM627 608h1v3h-1zM627 614h1v3h-1zM627 620h1v3h-1zM627 626h1v3h-1zM627 632h1v3h-1zM627 638h1v3h-1zM627 644h1v3h-1zM627 650h1v1h-1zM819 2h1v3h-1zM819 8h1v3h-1zM819 14h1v3h-1zM819 20h1v3h-1zM819 26h1v3h-1zM819 32h1v3h-1zM819 38h1v3h-1zM819 44h1v3h-1zM819 50h1v3h-1zM819 56h1v3h-1zM819 62h1v3h-1zM819 68h1v3h-1zM819 74h1v3h-1zM819 80h1v3h-1zM819 86h1v3h-1zM819 92h1v3h-1zM819 98h1v3h-1zM819 104h1v3h-1zM819 110h1v3h-1zM819 116h1v3h-1zM819 122h1v3h-1zM819 128h1v3h-1zM819 134h1v3h-1zM819 140h1v3h-1zM819 146h1v3h-1zM819 152h1v3h-1zM819 158h1v3h-1zM819 164h1v3h-1zM819 170h1v3h-1zM819 176h1v3h-1zM819 182h1v3h-1zM819 188h1v3h-1zM819 194h1v3h-1zM819 200h1v3h-1zM819 206h1v3h-1zM819 212h1v3h-1zM819 218h1v3h-1zM819 224h1v3h-1zM819 230h1v3h-1zM819 236h1v3h-1zM819 242h1v3h-1zM819 248h1v3h-1zM819 254h1v3h-1zM819 260h1v3h-1zM819 266h1v3h-1zM819 272h1v3h-1zM819 278h1v3h-1zM819 284h1v3h-1zM819 290h1v3h-1zM819 296h1v3h-1zM819 302h1v3h-1zM819 308h1v3h-1zM819 314h1v3h-1zM819 320h1v3h-1zM819 326h1v3h-1zM819 332h1v3h-1zM819 338h1v3h-1zM819 344h1v3h-1zM819 350h1v3h-1zM819 356h1v3h-1zM819 362h1v3h-1zM819 368h1v3h-1zM819 374h1v3h-1zM819 380h1v3h-1zM819 386h1v3h-1zM819 392h1v3h-1zM819 398h1v3h-1zM819 404h1v3h-1zM819 410h1v3h-1zM819 416h1v3h-1zM819 422h1v3h-1zM819 428h1v3h-1zM819 434h1v3h-1zM819 440h1v3h-1zM819 446h1v3h-1zM819 452h1v3h-1zM819 458h1v3h-1zM819 464h1v3h-1zM819 470h1v3h-1zM819 476h1v3h-1zM819 482h1v3h-1zM819 488h1v3h-1zM819 494h1v3h-1zM819 500h1v3h-1zM819 506h1v3h-1zM819 512h1v3h-1zM819 518h1v3h-1zM819 524h1v3h-1zM819 530h1v3h-1zM819 536h1v3h-1zM819 542h1v3h-1zM819 548h1v3h-1zM819 554h1v3h-1zM819 560h1v3h-1zM819 566h1v3h-1zM819 572h1v3h-1zM819 578h1v3h-1zM819 584h1v3h-1zM819 590h1v3h-1zM819 596h1v3h-1zM819 602h1v3h-1zM819 608h1v3h-1zM819 614h1v3h-1zM819 620h1v3h-1zM819 626h1v3h-1zM819 632h1v3h-1zM819 638h1v3h-1zM819 644h1v3h-1zM819 650h1v1h-1z"/>
<rect x="17" y="5" width="219" height="11" fill="#F0F8FF"/>
<path fill="#000" d="M3 217h9v1h-9zM18 217h3v1h-3zM27 217h9v1h-9zM42 217h3v1h-3zM51 217h9v1h-9zM66 217h3v1h-3zM75 217h9v1h-9zM90 217h3v1h-3zM99 217h9v1h-9zM114 217h3v1h-3zM123 217h9v1h-9zM138 217h3v1h-3zM147 217h9v1h-9zM162 217h3v1h-3zM171 217h9v1h-9zM186 217h3v1h-3zM195 217h9v1h-9zM210 217h3v1h-3zM219 217h9v1h-9zM234 217h3v1h-3zM243 217h9v1h-9zM258 217h3v1h-3zM267 217h9v1h-9zM282 217h3v1h-3zM291 217h9v1h-9zM306 217h3v1h-3zM315 217h9v1h-9zM330 217h3v1h-3zM339 217h9v1h-9zM354 217h3v1h-3zM363 217h9v1h-9zM378 217h3v1h-3zM387 217h9v1h-9zM402 217h3v1h-3zM411 217h9v1h-9zM426 217h3v1h-3zM435 217h9v1h-9zM450 217h3v1h-3zM459 217h9v1h-9zM474 217h3v1h-3zM483 217h9v1h-9zM498 217h3v1h-3zM507 217h9v1h-9zM522 217h3v1h-3zM531 217h9v1h-9zM546 217h3v1h-3zM555 217h9v1h-9zM570 217h3v1h-3zM579 217h9v1h-9zM594 217h3v1h-3zM603 217h9v1h-9zM618 217h3v1h-3zM627 217h9v1h-9zM642 217h3v1h-3zM651 217h9v1h-9zM666 217h3v1h-3zM675 217h9v1h-9zM690 217h3v1h-3zM699 217h9v1h-9zM714 217h3v1h-3zM723 217h9v1h-9zM738 217h3v1h-3zM747 217h9v1h-9zM762 217h3v1h-3zM771 217h9v1h-9zM786 217h3v1h-3zM795 217h9v1h-9zM810 217h3v1h-3zM819 217h9v1h-9zM834 217h3v1h-3zM843 217h9v1h-9zM858 217h3v1h-3zM867 217h9v1h-9zM882 217h3v1h-3zM891 217h9v1h-9zM906 217h3v1h-3zM915 217h9v1h-9zM930 217h3v1h-3zM939 217h9v1h-9zM3 267h9v1h-9zM18 267h3v1h-3zM27 267h9v1h-9zM42 267h3v1h-3zM51 267h9v1h-9zM66 267h3v1h-3zM75 267h9v1h-9zM90 267h3v1h-3zM99 267h9v1h-9zM114 267h3v1h-3zM123 267h9v1h-9zM138 267h3v1h-3zM147 267h9v1h-9zM162 267h3v1h-3zM171 267h9v1h-9zM186 267h3v1h-3zM195 267h9v1h-9zM210 267h3v1h-3zM219 267h9v1h-9zM234 267h3v1h-3zM243 267h9v1h-9zM258 267h3v1h-3zM267 267h9v1h-9zM282 267h3v1h-3zM291 267h9v1h-9zM306 267h3v1h-3zM315 267h9v1h-9zM330 267h3v1h-3zM339 267h9v1h-9zM354 267h3v1h-3zM363 267h9v1h-9zM378 267h3v1h-3zM387 267h9v1h-9zM402 267h3v1h-3zM411 267h9v1h-9zM426 267h3v1h-3zM435 267h9v1h-9zM450 267h3v1h-3zM459 267h9v1h-9zM474 267h3v1h-3zM483 267h9v1h-9zM498 267h3v1h-3zM507 267h9v1h-9zM522 267h3v1h-3zM531 267h9v1h-9zM546 267h3v1h-3zM555 267h9v1h-9zM570 267h3v1h-3zM579 267h9v1h-9zM594 267h3v1h-3zM603 267h9v1h-9zM618 267h3v1h-3zM627 267h9v1h-9zM642 267h3v1h-3zM651 267h9v1h-9zM666 267h3v1h-3zM675 267h9v1h-9zM690 267h3v1h-3zM699 267h9v1h-9zM714 267h3v1h-3zM723 267h9v1h-9zM738 267h3v1h-3zM747 267h9v1h-9zM762 267h3v1h-3zM771 267h9v1h-9zM786 267h3v1h-3zM795 267h9v1h-9zM810 267h3v1h-3zM819 267h9v1h-9zM834 267h3v1h-3zM843 267h9v1h-9zM858 267h3v1h-3zM867 267h9v1h-9zM882 267h3v1h-3zM891 267h9v1h-9zM906 267h3v1h-3zM915 267h9v1h-9zM930 267h3v1h-3zM939 267h9v1h-9zM3 313h9v1h-9zM18 313h3v1h-3zM27 313h9v1h-9zM42 313h3v1h-3zM51 313h9v1h-9zM66 313h3v1h-3zM75 313h9v1h-9zM90 313h3v1h-3zM99 313h9v1h-9zM114 313h3v1h-3zM123 313h9v1h-9zM138 313h3v1h-3zM147 313h9v1h-9zM162 313h3v1h-3zM171 313h9v1h-9zM186 313h3v1h-3zM195 313h9v1h-9zM210 313h3v1h-3zM219 313h9v1h-9zM234 313h3v1h-3zM243 313h9v1h-9zM258 313h3v1h-3zM267 313h9v1h-9zM282 313h3v1h-3zM291 313h9v1h-9zM306 313h3v1h-3zM315 313h9v1h-9zM330 313h3v1h-3zM339 313h9v1h-9zM354 313h3v1h-3zM363 313h9v1h-9zM378 313h3v1h-3zM387 313h9v1h-9zM402 313h3v1h-3zM411 313h9v1h-9zM426 313h3v1h-3zM435 313h9v1h-9zM450 313h3v1h-3zM459 313h9v1h-9zM474 313h3v1h-3zM483 313h9v1h-9zM498 313h3v1h-3zM507 313h9v1h-9zM522 313h3v1h-3zM531 313h9v1h-9zM546 313h3v1h-3zM555 313h9v1h-9zM570 313h3v1h-3zM579 313h9v1h-9zM594 313h3v1h-3zM603 313h9v1h-9zM618 313h3v1h-3zM627 313h9v1h-9zM642 313h3v1h-3zM651 313h9v1h-9zM666 313h3v1h-3zM675 313h9v1h-9zM690 313h3v1h-3zM699 313h9v1h-9zM714 313h3v1h-3zM723 313h9v1h-9zM738 313h3v1h-3zM747 313h9v1h-9zM762 313h3v1h-3zM771 313h9v1h-9zM786 313h3v1h-3zM795 313h9v1h-9zM810 313h3v1h-3zM819 313h9v1h-9zM834 313h3v1h-3zM843 313h9v1h-9zM858 313h3v1h-3zM867 313h9v1h-9zM882 313h3v1h-3zM891 313h9v1h-9zM906 313h3v1h-3zM915 313h9v1h-9zM930 313h3v1h-3zM939 313h9v1h-9zM3 400h9v1h-9zM18 400h3v1h-3zM27 400h9v1h-9zM42 400h3v1h-3zM51 400h9v1h-9zM66 400h3v1h-3zM75 400h9v1h-9zM90 400h3v1h-3zM99 400h9v1h-9zM114 400h3v1h-3zM123 400h9v1h-9zM138 400h3v1h-3zM147 400h9v1h-9zM162 400h3v1h-3zM171 400h9v1h-9zM186 400h3v1h-3zM195 400h9v1h-9zM210 400h3v1h-3zM219 400h9v1h-9zM234 400h3v1h-3zM243 400h9v1h-9zM258 400h3v1h-3zM267 400h9v1h-9zM282 400h3v1h-3zM291 400h9v1h-9zM306 400h3v1h-3zM315 400h9v1h-9zM330 400h3v1h-3zM339 400h9v1h-9zM354 400h3v1h-3zM363 400h9v1h-9zM378 400h3v1h-3zM387 400h9v1h-9zM402 400h3v1h-3zM411 400h9v1h-9zM426 400h3v1h-3zM435 400h9v1h-9zM450 400h3v1h-3zM459 400h9v1h-9zM474 400h3v1h-3zM483 400h9v1h-9zM498 400h3v1h-3zM507 400h9v1h-9zM522 400h3v1h-3zM531 400h9v1h-9zM546 400h3v1h-3zM555 400h9v1h-9zM570 400h3v1h-3zM579 400h9v1h-9zM594 400h3v1h-3zM603 400h9v1h-9zM618 400h3v1h-3zM627 400h9v1h-9zM642 400h3v1h-3zM651 400h9v1h-9zM666 400h3v1h-3zM675 400h9v1h-9zM690 400h3v1h-3zM699 400h9v1h-9zM714 400h3v1h-3zM723 400h9v1h-9zM738 400h3v1h-3zM747 400h9v1h-9zM762 400h3v1h-3zM771 400h9v1h-9zM786 400h3v1h-3zM795 400h9v1h-9zM810 400h3v1h-3zM819 400h9v1h-9zM834 400h3v1h-3zM843 400h9v1h-9zM858 400h3v1h-3zM867 400h9v1h-9zM882 400h3v1h-3zM891 400h9v1h-9zM906 400h3v1h-3zM915 400h9v1h-9zM930 400h3v1h-3zM939 400h9v1h-9zM3 451h9v1h-9zM18 451h3v1h-3zM27 451h9v1h-9zM42 451h3v1h-3zM51 451h9v1h-9zM66 451h3v1h-3zM75 451h9v1h-9zM90 451h3v1h-3zM99 451h9v1h-9zM114 451h3v1h-3zM123 451h9v1h-9zM138 451h3v1h-3zM147 451h9v1h-9zM162 451h3v1h-3zM171 451h9v1h-9zM186 451h3v1h-3zM195 451h9v1h-9zM210 451h3v1h-3zM219 451h9v1h-9zM234 451h3v1h-3zM243 451h9v1h-9zM258 451h3v1h-3zM267 451h9v1h-9zM282 451h3v1h-3zM291 451h9v1h-9zM306 451h3v1h-3zM315 451h9v1h-9zM330 451h3v1h-3zM339 451h9v1h-9zM354 451h3v1h-3zM363 451h9v1h-9zM378 451h3v1h-3zM387 451h9v1h-9zM402 451h3v1h-3zM411 451h9v1h-9zM426 451h3v1h-3zM435 451h9v1h-9zM450 451h3v1h-3zM459 451h9v1h-9zM474 451h3v1h-3zM483 451h9v1h-9zM498 451h3v1h-3zM507 451h9v1h-9zM522 451h3v1h-3zM531 451h9v1h-9zM546 451h3v1h-3zM555 451h9v1h-9zM570 451h3v1h-3zM579 451h9v1h-9zM594 451h3v1h-3zM603 451h9v1h-9zM618 451h3v1h-3zM627 451h9v1h-9zM642 451h3v1h-3zM651 451h9v1h-9zM666 451h3v1h-3zM675 451h9v1h-9zM690 451h3v1h-3zM699 451h9v1h-9zM714 451h3v1h-3zM723 451h9v1h-9zM738 451h3v1h-3zM747 451h9v1h-9zM762 451h3v1h-3zM771 451h9v1h-9zM786 451h3v1h-3zM795 451h9v1h-9zM810 451h3v1h-3zM819 451h9v1h-9zM834 451h3v1h-3zM843 451h9v1h-9zM858 451h3v1h-3zM867 451h9v1h-9zM882 451h3v1h-3zM891 451h9v1h-9zM906 451h3v1h-3zM915 451h9v1h-9zM930 451h3v1h-3zM939 451h9v1h-9zM3 482h9v1h-9zM18 482h3v1h-3zM27 482h9v1h-9zM42 482h3v1h-3zM51 482h9v1h-9zM66 482h3v1h-3zM75 482h9v1h-9zM90 482h3v1h-3zM99 482h9v1h-9zM114 482h3v1h-3zM123 482h9v1h-9zM138 482h3v1h-3zM147 482h9v1h-9zM162 482h3v1h-3zM171 482h9v1h-9zM186 482h3v1h-3zM195 482h9v1h-9zM210 482h3v1h-3zM219 482h9v1h-9zM234 482h3v1h-3zM243 482h9v1h-9zM258 482h3v1h-3zM267 482h9v1h-9zM282 482h3v1h-3zM291 482h9v1h-9zM306 482h3v1h-3zM315 482h9v1h-9zM330 482h3v1h-3zM339 482h9v1h-9zM354 482h3v1h-3zM363 482h9v1h-9zM378 482h3v1h-3zM387 482h9v1h-9zM402 482h3v1h-3zM411 482h9v1h-9zM426 482h3v1h-3zM435 482h9v1h-9zM450 482h3v1h-3zM459 482h9v1h-9zM474 482h3v1h-3zM483 482h9v1h-9zM498 482h3v1h-3zM507 482h9v1h-9zM522 482h3v1h-3zM531 482h9v1h-9zM546 482h3v1h-3zM555 482h9v1h-9zM570 482h3v1h-3zM579 482h9v1h-9zM594 482h3v1h-3zM603 482h9v1h-9zM618 482h3v1h-3zM627 482h9v1h-9zM642 482h3v1h-3zM651 482h9v1h-9zM666 482h3v1h-3zM675 482h9v1h-9zM690 482h3v1h-3zM699 482h9v1h-9zM714 482h3v1h-3zM723 482h9v1h-9zM738 482h3v1h-3zM747 482h9v1h-9zM762 482h3v1h-3zM771 482h9v1h-9zM786 482h3v1h-3zM795 482h9v1h-9zM810 482h3v1h-3zM819 482h9v1h-9zM834 482h3v1h-3zM843 482h9v1h-9zM858 482h3v1h-3zM867 482h9v1h-9zM882 482h3v1h-3zM891 482h9v1h-9zM906 482h3v1h-3zM915 482h9v1h-9zM930 482h3v1h-3zM939 482h9v1h-9z"/>
<rect x="4" y="399" width="4" height="3" fill="#F0F8FF"/>
<path fill="#000" d="M3 398h5v3h-1v-2h-3v4h-1z"/>
<rect x="943" y="399" width="5" height="3" fill="#F0F8FF"/>
<path fill="#000" d="M943 398h5v2h-1v-1h-3v4h-1z"/>
<path fill="#AAAAAA" d="M4 516h3v1h-3zM10 516h3v1h-3zM16 516h3v1h-3zM22 516h3v1h-3zM28 516h3v1h-3zM34 516h3v1h-3zM40 516h3v1h-3zM46 516h3v1h-3zM52 516h3v1h-3zM58 516h3v1h-3zM64 516h3v1h-3zM70 516h3v1h-3zM76 516h3v1h-3zM82 516h3v1h-3zM88 516h3v1h-3zM94 516h3v1h-3zM100 516h3v1h-3zM106 516h3v1h-3zM112 516h3v1h-3zM118 516h3v1h-3zM124 516h3v1h-3zM130 516h3v1h-3zM136 516h3v1h-3zM142 516h3v1h-3zM148 516h3v1h-3zM154 516h3v1h-3zM160 516h3v1h-3zM166 516h3v1h-3zM172 516h3v1h-3zM178 516h3v1h-3zM184 516h3v1h-3zM190 516h3v1h-3zM196 516h3v1h-3zM202 516h3v1h-3zM208 516h3v1h-3zM214 516h3v1h-3zM220 516h3v1h-3zM226 516h3v1h-3zM232 516h3v1h-3zM238 516h3v1h-3zM244 516h3v1h-3zM250 516h3v1h-3zM256 516h3v1h-3zM262 516h3v1h-3zM268 516h3v1h-3zM274 516h3v1h-3zM280 516h3v1h-3zM286 516h3v1h-3zM292 516h3v1h-3zM298 516h3v1h-3zM304 516h3v1h-3zM310 516h3v1h-3zM316 516h3v1h-3zM322 516h3v1h-3zM328 516h3v1h-3zM334 516h3v1h-3zM340 516h3v1h-3zM346 516h3v1h-3zM352 516h3v1h-3zM358 516h3v1h-3zM364 516h3v1h-3zM370 516h3v1h-3zM376 516h3v1h-3zM382 516h3v1h-3zM388 516h3v1h-3zM394 516h3v1h-3zM400 516h3v1h-3zM406 516h3v1h-3zM412 516h3v1h-3zM418 516h3v1h-3zM424 516h3v1h-3zM430 516h3v1h-3zM436 516h3v1h-3zM442 516h3v1h-3zM448 516h3v1h-3zM454 516h3v1h-3zM460 516h3v1h-3zM466 516h3v1h-3zM472 516h3v1h-3zM478 516h3v1h-3zM484 516h3v1h-3zM490 516h3v1h-3zM496 516h3v1h-3zM502 516h3v1h-3zM508 516h3v1h-3zM514 516h3v1h-3zM520 516h3v1h-3zM526 516h3v1h-3zM532 516h3v1h-3zM538 516h3v1h-3zM544 516h3v1h-3zM550 516h3v1h-3zM556 516h3v1h-3zM562 516h3v1h-3zM568 516h3v1h-3zM574 516h3v1h-3zM580 516h3v1h-3zM586 516h3v1h-3zM592 516h3v1h-3zM598 516h3v1h-3zM604 516h3v1h-3zM610 516h3v1h-3zM616 516h3v1h-3zM622 516h3v1h-3zM628 516h3v1h-3zM634 516h3v1h-3zM640 516h3v1h-3zM646 516h3v1h-3zM652 516h3v1h-3zM658 516h3v1h-3zM664 516h3v1h-3zM670 516h3v1h-3zM676 516h3v1h-3zM682 516h3v1h-3zM688 516h3v1h-3zM694 516h3v1h-3zM700 516h3v1h-3zM706 516h3v1h-3zM712 516h3v1h-3zM718 516h3v1h-3zM724 516h3v1h-3zM730 516h3v1h-3zM736 516h3v1h-3zM742 516h3v1h-3zM748 516h3v1h-3zM754 516h3v1h-3zM760 516h3v1h-3zM766 516h3v1h-3zM772 516h3v1h-3zM778 516h3v1h-3zM784 516h3v1h-3zM790 516h3v1h-3zM796 516h3v1h-3zM802 516h3v1h-3zM808 516h3v1h-3zM814 516h3v1h-3zM820 516h3v1h-3zM826 516h3v1h-3zM832 516h3v1h-3zM838 516h3v1h-3zM844 516h3v1h-3zM850 516h3v1h-3zM856 516h3v1h-3zM862 516h3v1h-3zM868 516h3v1h-3zM874 516h3v1h-3zM880 516h3v1h-3zM886 516h3v1h-3zM892 516h3v1h-3zM898 516h3v1h-3zM904 516h3v1h-3zM910 516h3v1h-3zM916 516h3v1h-3zM922 516h3v1h-3zM928 516h3v1h-3zM934 516h3v1h-3zM940 516h3v1h-3zM946 516h2v1h-2zM4 541h3v1h-3zM10 541h3v1h-3zM16 541h3v1h-3zM22 541h3v1h-3zM28 541h3v1h-3zM34 541h3v1h-3zM40 541h3v1h-3zM46 541h3v1h-3zM52 541h3v1h-3zM58 541h3v1h-3zM64 541h3v1h-3zM70 541h3v1h-3zM76 541h3v1h-3zM82 541h3v1h-3zM88 541h3v1h-3zM94 541h3v1h-3zM100 541h3v1h-3zM106 541h3v1h-3zM112 541h3v1h-3zM118 541h3v1h-3zM124 541h3v1h-3zM130 541h3v1h-3zM136 541h3v1h-3zM142 541h3v1h-3zM148 541h3v1h-3zM154 541h3v1h-3zM160 541h3v1h-3zM166 541h3v1h-3zM172 541h3v1h-3zM178 541h3v1h-3zM184 541h3v1h-3zM190 541h3v1h-3zM196 541h3v1h-3zM202 541h3v1h-3zM208 541h3v1h-3zM214 541h3v1h-3zM220 541h3v1h-3zM226 541h3v1h-3zM232 541h3v1h-3zM238 541h3v1h-3zM244 541h3v1h-3zM250 541h3v1h-3zM256 541h3v1h-3zM262 541h3v1h-3zM268 541h3v1h-3zM274 541h3v1h-3zM280 541h3v1h-3zM286 541h3v1h-3zM292 541h3v1h-3zM298 541h3v1h-3zM304 541h3v1h-3zM310 541h3v1h-3zM316 541h3v1h-3zM322 541h3v1h-3zM328 541h3v1h-3zM334 541h3v1h-3zM340 541h3v1h-3zM346 541h3v1h-3zM352 541h3v1h-3zM358 541h3v1h-3zM364 541h3v1h-3zM370 541h3v1h-3zM376 541h3v1h-3zM382 541h3v1h-3zM388 541h3v1h-3zM394 541h3v1h-3zM400 541h3v1h-3zM406 541h3v1h-3zM412 541h3v1h-3zM418 541h3v1h-3zM424 541h3v1h-3zM430 541h3v1h-3zM436 541h3v1h-3zM442 541h3v1h-3zM448 541h3v1h-3zM454 541h3v1h-3zM460 541h3v1h-3zM466 541h3v1h-3zM472 541h3v1h-3zM478 541h3v1h-3zM484 541h3v1h-3zM490 541h3v1h-3zM496 541h3v1h-3zM502 541h3v1h-3zM508 541h3v1h-3zM514 541h3v1h-3zM520 541h3v1h-3zM526 541h3v1h-3zM532 541h3v1h-3zM538 541h3v1h-3zM544 541h3v1h-3zM550 541h3v1h-3zM556 541h3v1h-3zM562 541h3v1h-3zM568 541h3v1h-3zM574 541h3v1h-3zM580 541h3v1h-3zM586 541h3v1h-3zM592 541h3v1h-3zM598 541h3v1h-3zM604 541h3v1h-3zM610 541h3v1h-3zM616 541h3v1h-3zM622 541h3v1h-3zM628 541h3v1h-3zM634 541h3v1h-3zM640 541h3v1h-3zM646 541h3v1h-3zM652 541h3v1h-3zM658 541h3v1h-3zM664 541h3v1h-3zM670 541h3v1h-3zM676 541h3v1h-3zM682 541h3v1h-3zM688 541h3v1h-3zM694 541h3v1h-3zM700 541h3v1h-3zM706 541h3v1h-3zM712 541h3v1h-3zM718 541h3v1h-3zM724 541h3v1h-3zM730 541h3v1h-3zM736 541h3v1h-3zM742 541h3v1h-3zM748 541h3v1h-3zM754 541h3v1h-3zM760 541h3v1h-3zM766 541h3v1h-3zM772 541h3v1h-3zM778 541h3v1h-3zM784 541h3v1h-3zM790 541h3v1h-3zM796 541h3v1h-3zM802 541h3v1h-3zM808 541h3v1h-3zM814 541h3v1h-3zM820 541h3v1h-3zM826 541h3v1h-3zM832 541h3v1h-3zM838 541h3v1h-3zM844 541h3v1h-3zM850 541h3v1h-3zM856 541h3v1h-3zM862 541h3v1h-3zM868 541h3v1h-3zM874 541h3v1h-3zM880 541h3v1h-3zM886 541h3v1h-3zM892 541h3v1h-3zM898 541h3v1h-3zM904 541h3v1h-3zM910 541h3v1h-3zM916 541h3v1h-3zM922 541h3v1h-3zM928 541h3v1h-3zM934 541h3v1h-3zM940 541h3v1h-3zM946 541h2v1h-2zM4 566h3v1h-3zM10 566h3v1h-3zM16 566h3v1h-3zM22 566h3v1h-3zM28 566h3v1h-3zM34 566h3v1h-3zM40 566h3v1h-3zM46 566h3v1h-3zM52 566h3v1h-3zM58 566h3v1h-3zM64 566h3v1h-3zM70 566h3v1h-3zM76 566h3v1h-3zM82 566h3v1h-3zM88 566h3v1h-3zM94 566h3v1h-3zM100 566h3v1h-3zM106 566h3v1h-3zM112 566h3v1h-3zM118 566h3v1h-3zM124 566h3v1h-3zM130 566h3v1h-3zM136 566h3v1h-3zM142 566h3v1h-3zM148 566h3v1h-3zM154 566h3v1h-3zM160 566h3v1h-3zM166 566h3v1h-3zM172 566h3v1h-3zM178 566h3v1h-3zM184 566h3v1h-3zM190 566h3v1h-3zM196 566h3v1h-3zM202 566h3v1h-3zM208 566h3v1h-3zM214 566h3v1h-3zM220 566h3v1h-3zM226 566h3v1h-3zM232 566h3v1h-3zM238 566h3v1h-3zM244 566h3v1h-3zM250 566h3v1h-3zM256 566h3v1h-3zM262 566h3v1h-3zM268 566h3v1h-3zM274 566h3v1h-3zM280 566h3v1h-3zM286 566h3v1h-3zM292 566h3v1h-3zM298 566h3v1h-3zM304 566h3v1h-3zM310 566h3v1h-3zM316 566h3v1h-3zM322 566h3v1h-3zM328 566h3v1h-3zM334 566h3v1h-3zM340 566h3v1h-3zM346 566h3v1h-3zM352 566h3v1h-3zM358 566h3v1h-3zM364 566h3v1h-3zM370 566h3v1h-3zM376 566h3v1h-3zM382 566h3v1h-3zM388 566h3v1h-3zM394 566h3v1h-3zM400 566h3v1h-3zM406 566h3v1h-3zM412 566h3v1h-3zM418 566h3v1h-3zM424 566h3v1h-3zM430 566h3v1h-3zM436 566h3v1h-3zM442 566h3v1h-3zM448 566h3v1h-3zM454 566h3v1h-3zM460 566h3v1h-3zM466 566h3v1h-3zM472 566h3v1h-3zM478 566h3v1h-3zM484 566h3v1h-3zM490 566h3v1h-3zM496 566h3v1h-3zM502 566h3v1h-3zM508 566h3v1h-3zM514 566h3v1h-3zM520 566h3v1h-3zM526 566h3v1h-3zM532 566h3v1h-3zM538 566h3v1h-3zM544 566h3v1h-3zM550 566h3v1h-3zM556 566h3v1h-3zM562 566h3v1h-3zM568 566h3v1h-3zM574 566h3v1h-3zM580 566h3v1h-3zM586 566h3v1h-3zM592 566h3v1h-3zM598 566h3v1h-3zM604 566h3v1h-3zM610 566h3v1h-3zM616 566h3v1h-3zM622 566h3v1h-3zM628 566h3v1h-3zM634 566h3v1h-3zM640 566h3v1h-3zM646 566h3v1h-3zM652 566h3v1h-3zM658 566h3v1h-3zM664 566h3v1h-3zM670 566h3v1h-3zM676 566h3v1h-3zM682 566h3v1h-3zM688 566h3v1h-3zM694 566h3v1h-3zM700 566h3v1h-3zM706 566h3v1h-3zM712 566h3v1h-3zM718 566h3v1h-3zM724 566h3v1h-3zM730 566h3v1h-3zM736 566h3v1h-3zM742 566h3v1h-3zM748 566h3v1h-3zM754 566h3v1h-3zM760 566h3v1h-3zM766 566h3v1h-3zM772 566h3v1h-3zM778 566h3v1h-3zM784 566h3v1h-3zM790 566h3v1h-3zM796 566h3v1h-3zM802 566h3v1h-3zM808 566h3v1h-3zM814 566h3v1h-3zM820 566h3v1h-3zM826 566h3v1h-3zM832 566h3v1h-3zM838 566h3v1h-3zM844 566h3v1h-3zM850 566h3v1h-3zM856 566h3v1h-3zM862 566h3v1h-3zM868 566h3v1h-3zM874 566h3v1h-3zM880 566h3v1h-3zM886 566h3v1h-3zM892 566h3v1h-3zM898 566h3v1h-3zM904 566h3v1h-3zM910 566h3v1h-3zM916 566h3v1h-3zM922 566h3v1h-3zM928 566h3v1h-3zM934 566h3v1h-3zM940 566h3v1h-3zM946 566h2v1h-2zM4 583h3v1h-3zM10 583h3v1h-3zM16 583h3v1h-3zM22 583h3v1h-3zM28 583h3v1h-3zM34 583h3v1h-3zM40 583h3v1h-3zM46 583h3v1h-3zM52 583h3v1h-3zM58 583h3v1h-3zM64 583h3v1h-3zM70 583h3v1h-3zM76 583h3v1h-3zM82 583h3v1h-3zM88 583h3v1h-3zM94 583h3v1h-3zM100 583h3v1h-3zM106 583h3v1h-3zM112 583h3v1h-3zM118 583h3v1h-3zM124 583h3v1h-3zM130 583h3v1h-3zM136 583h3v1h-3zM142 583h3v1h-3zM148 583h3v1h-3zM154 583h3v1h-3zM160 583h3v1h-3zM166 583h3v1h-3zM172 583h3v1h-3zM178 583h3v1h-3zM184 583h3v1h-3zM190 583h3v1h-3zM196 583h3v1h-3zM202 583h3v1h-3zM208 583h3v1h-3zM214 583h3v1h-3zM220 583h3v1h-3zM226 583h3v1h-3zM232 583h3v1h-3zM238 583h3v1h-3zM244 583h3v1h-3zM250 583h3v1h-3zM256 583h3v1h-3zM262 583h3v1h-3zM268 583h3v1h-3zM274 583h3v1h-3zM280 583h3v1h-3zM286 583h3v1h-3zM292 583h3v1h-3zM298 583h3v1h-3zM304 583h3v1h-3zM310 583h3v1h-3zM316 583h3v1h-3zM322 583h3v1h-3zM328 583h3v1h-3zM334 583h3v1h-3zM340 583h3v1h-3zM346 583h3v1h-3zM352 583h3v1h-3zM358 583h3v1h-3zM364 583h3v1h-3zM370 583h3v1h-3zM376 583h3v1h-3zM382 583h3v1h-3zM388 583h3v1h-3zM394 583h3v1h-3zM400 583h3v1h-3zM406 583h3v1h-3zM412 583h3v1h-3zM418 583h3v1h-3zM424 583h3v1h-3zM430 583h3v1h-3zM436 583h3v1h-3zM442 583h3v1h-3zM448 583h3v1h-3zM454 583h3v1h-3zM460 583h3v1h-3zM466 583h3v1h-3zM472 583h3v1h-3zM478 583h3v1h-3zM484 583h3v1h-3zM490 583h3v1h-3zM496 583h3v1h-3zM502 583h3v1h-3zM508 583h3v1h-3zM514 583h3v1h-3zM520 583h3v1h-3zM526 583h3v1h-3zM532 583h3v1h-3zM538 583h3v1h-3zM544 583h3v1h-3zM550 583h3v1h-3zM556 583h3v1h-3zM562 583h3v1h-3zM568 583h3v1h-3zM574 583h3v1h-3zM580 583h3v1h-3zM586 583h3v1h-3zM592 583h3v1h-3zM598 583h3v1h-3zM604 583h3v1h-3zM610 583h3v1h-3zM616 583h3v1h-3zM622 583h3v1h-3zM628 583h3v1h-3zM634 583h3v1h-3zM640 583h3v1h-3zM646 583h3v1h-3zM652 583h3v1h-3zM658 583h3v1h-3zM664 583h3v1h-3zM670 583h3v1h-3zM676 583h3v1h-3zM682 583h3v1h-3zM688 583h3v1h-3zM694 583h3v1h-3zM700 583h3v1h-3zM706 583h3v1h-3zM712 583h3v1h-3zM718 583h3v1h-3zM724 583h3v1h-3zM730 583h3v1h-3zM736 583h3v1h-3zM742 583h3v1h-3zM748 583h3v1h-3zM754 583h3v1h-3zM760 583h3v1h-3zM766 583h3v1h-3zM772 583h3v1h-3zM778 583h3v1h-3zM784 583h3v1h-3zM790 583h3v1h-3zM796 583h3v1h-3zM802 583h3v1h-3zM808 583h3v1h-3zM814 583h3v1h-3zM820 583h3v1h-3zM826 583h3v1h-3zM832 583h3v1h-3zM838 583h3v1h-3zM844 583h3v1h-3zM850 583h3v1h-3zM856 583h3v1h-3zM862 583h3v1h-3zM868 583h3v1h-3zM874 583h3v1h-3zM880 583h3v1h-3zM886 583h3v1h-3zM892 583h3v1h-3zM898 583h3v1h-3zM904 583h3v1h-3zM910 583h3v1h-3zM916 583h3v1h-3zM922 583h3v1h-3zM928 583h3v1h-3zM934 583h3v1h-3zM940 583h3v1h-3zM946 583h2v1h-2zM4 617h3v1h-3zM10 617h3v1h-3zM16 617h3v1h-3zM22 617h3v1h-3zM28 617h3v1h-3zM34 617h3v1h-3zM40 617h3v1h-3zM46 617h3v1h-3zM52 617h3v1h-3zM58 617h3v1h-3zM64 617h3v1h-3zM70 617h3v1h-3zM76 617h3v1h-3zM82 617h3v1h-3zM88 617h3v1h-3zM94 617h3v1h-3zM100 617h3v1h-3zM106 617h3v1h-3zM112 617h3v1h-3zM118 617h3v1h-3zM124 617h3v1h-3zM130 617h3v1h-3zM136 617h3v1h-3zM142 617h3v1h-3zM148 617h3v1h-3zM154 617h3v1h-3zM160 617h3v1h-3zM166 617h3v1h-3zM172 617h3v1h-3zM178 617h3v1h-3zM184 617h3v1h-3zM190 617h3v1h-3zM196 617h3v1h-3zM202 617h3v1h-3zM208 617h3v1h-3zM214 617h3v1h-3zM220 617h3v1h-3zM226 617h3v1h-3zM232 617h3v1h-3zM238 617h3v1h-3zM244 617h3v1h-3zM250 617h3v1h-3zM256 617h3v1h-3zM262 617h3v1h-3zM268 617h3v1h-3zM274 617h3v1h-3zM280 617h3v1h-3zM286 617h3v1h-3zM292 617h3v1h-3zM298 617h3v1h-3zM304 617h3v1h-3zM310 617h3v1h-3zM316 617h3v1h-3zM322 617h3v1h-3zM328 617h3v1h-3zM334 617h3v1h-3zM340 617h3v1h-3zM346 617h3v1h-3zM352 617h3v1h-3zM358 617h3v1h-3zM364 617h3v1h-3zM370 617h3v1h-3zM376 617h3v1h-3zM382 617h3v1h-3zM388 617h3v1h-3zM394 617h3v1h-3zM400 617h3v1h-3zM406 617h3v1h-3zM412 617h3v1h-3zM418 617h3v1h-3zM424 617h3v1h-3zM430 617h3v1h-3zM436 617h3v1h-3zM442 617h3v1h-3zM448 617h3v1h-3zM454 617h3v1h-3zM460 617h3v1h-3zM466 617h3v1h-3zM472 617h3v1h-3zM478 617h3v1h-3zM484 617h3v1h-3zM490 617h3v1h-3zM496 617h3v1h-3zM502 617h3v1h-3zM508 617h3v1h-3zM514 617h3v1h-3zM520 617h3v1h-3zM526 617h3v1h-3zM532 617h3v1h-3zM538 617h3v1h-3zM544 617h3v1h-3zM550 617h3v1h-3zM556 617h3v1h-3zM562 617h3v1h-3zM568 617h3v1h-3zM574 617h3v1h-3zM580 617h3v1h-3zM586 617h3v1h-3zM592 617h3v1h-3zM598 617h3v1h-3zM604 617h3v1h-3zM610 617h3v1h-3zM616 617h3v1h-3zM622 617h3v1h-3zM628 617h3v1h-3zM634 617h3v1h-3zM640 617h3v1h-3zM646 617h3v1h-3zM652 617h3v1h-3zM658 617h3v1h-3zM664 617h3v1h-3zM670 617h3v1h-3zM676 617h3v1h-3zM682 617h3v1h-3zM688 617h3v1h-3zM694 617h3v1h-3zM700 617h3v1h-3zM706 617h3v1h-3zM712 617h3v1h-3zM718 617h3v1h-3zM724 617h3v1h-3zM730 617h3v1h-3zM736 617h3v1h-3zM742 617h3v1h-3zM748 617h3v1h-3zM754 617h3v1h-3zM760 617h3v1h-3zM766 617h3v1h-3zM772 617h3v1h-3zM778 617h3v1h-3zM784 617h3v1h-3zM790 617h3v1h-3zM796 617h3v1h-3zM802 617h3v1h-3zM808 617h3v1h-3zM814 617h3v1h-3zM820 617h3v1h-3zM826 617h3v1h-3zM832 617h3v1h-3zM838 617h3v1h-3zM844 617h3v1h-3zM850 617h3v1h-3zM856 617h3v1h-3zM862 617h3v1h-3zM868 617h3v1h-3zM874 617h3v1h-3zM880 617h3v1h-3zM886 617h3v1h-3zM892 617h3v1h-3zM898 617h3v1h-3zM904 617h3v1h-3zM910 617h3v1h-3zM916 617h3v1h-3zM922 617h3v1h-3zM928 617h3v1h-3zM934 617h3v1h-3zM940 617h3v1h-3zM946 617h2v1h-2z"/>
<path fill="#0000D2" d="M3 42h1v47h-1zM11 27h1v88h-1zM19 69h1v41h-1zM27 86h1v38h-1zM35 83h1v42h-1zM43 104h1v72h-1zM51 122h1v49h-1zM59 128h1v40h-1zM67 139h1v26h-1zM75 155h1v32h-1zM83 166h1v16h-1zM91 161h1v14h-1zM99 144h1v30h-1zM107 122h1v46h-1zM115 115h1v33h-1zM123 143h1v49h-1zM131 175h1v41h-1zM139 147h1v43h-1zM147 184h1v34h-1zM155 162h1v34h-1zM163 119h1v58h-1zM171 94h1v69h-1zM179 125h1v40h-1zM187 130h1v67h-1zM195 72h1v90h-1zM203 93h1v49h-1zM211 100h1v27h-1zM219 114h1v33h-1zM227 105h1v87h-1zM235 159h1v79h-1zM243 206h1v95h-1zM251 271h1v42h-1zM259 248h1v39h-1zM267 220h1v79h-1zM275 285h1v104h-1zM283 346h1v37h-1zM291 328h1v45h-1zM299 316h1v125h-1zM307 317h1v60h-1zM315 331h1v51h-1zM323 302h1v55h-1zM331 325h1v49h-1zM339 321h1v53h-1zM347 347h1v57h-1zM355 356h1v75h-1zM363 348h1v40h-1zM371 347h1v25h-1zM379 328h1v49h-1zM387 323h1v37h-1zM395 321h1v48h-1zM403 317h1v35h-1zM411 317h1v39h-1zM419 324h1v55h-1zM427 289h1v44h-1zM435 282h1v71h-1zM443 325h1v33h-1zM451 340h1v30h-1zM459 320h1v52h-1zM467 311h1v37h-1zM475 322h1v48h-1zM483 319h1v78h-1zM491 377h1v32h-1zM499 395h1v58h-1zM507 430h1v47h-1zM515 382h1v88h-1zM523 394h1v56h-1zM531 411h1v37h-1zM539 419h1v33h-1zM547 318h1v143h-1zM555 340h1v109h-1zM563 343h1v89h-1zM571 290h1v75h-1zM579 267h1v58h-1zM587 287h1v42h-1zM595 298h1v47h-1zM603 325h1v51h-1zM611 374h1v63h-1zM619 419h1v42h-1zM627 419h1v46h-1zM635 449h1v43h-1zM643 403h1v69h-1zM651 418h1v49h-1zM659 393h1v75h-1zM667 384h1v54h-1zM675 378h1v45h-1zM683 388h1v47h-1zM691 411h1v72h-1zM699 428h1v52h-1zM707 399h1v72h-1zM715 332h1v83h-1zM723 321h1v47h-1zM731 329h1v68h-1zM739 370h1v40h-1zM747 340h1v57h-1zM3 59h3v15h-3zM9 59h5v31h-5zM17 83h5v18h-5zM25 98h5v22h-5zM33 114h5v5h-5zM41 114h5v55h-5zM49 143h5v24h-5zM57 143h5v13h-5zM65 156h5v8h-5zM73 161h5v18h-5zM81 175h5v3h-5zM89 169h5v2h-5zM97 160h5v7h-5zM105 133h5v29h-5zM113 133h5v6h-5zM121 143h5v46h-5zM129 188h5v15h-5zM137 188h5v1h-5zM145 188h5v4h-5zM153 167h5v25h-5zM161 122h5v45h-5zM169 118h5v31h-5zM177 143h5v6h-5zM185 143h5v11h-5zM193 115h5v38h-5zM201 111h5v13h-5zM209 112h5v8h-5zM217 119h5v22h-5zM225 139h5v51h-5zM233 188h5v33h-5zM241 220h5v67h-5zM249 276h5v25h-5zM257 269h5v8h-5zM265 269h5v28h-5zM273 296h5v71h-5zM281 357h5v10h-5zM289 343h5v27h-5zM297 343h5v8h-5zM305 350h5v22h-5zM313 346h5v26h-5zM321 342h5v5h-5zM329 344h5v22h-5zM337 344h5v18h-5zM345 361h5v31h-5zM353 381h5v12h-5zM361 366h5v16h-5zM369 359h5v2h-5zM377 335h5v26h-5zM385 335h5v5h-5zM393 339h5v11h-5zM401 322h5v29h-5zM409 318h5v26h-5zM417 327h5v17h-5zM425 297h5v31h-5zM433 297h5v49h-5zM441 337h5v9h-5zM449 343h5v22h-5zM457 336h5v30h-5zM465 335h5v1h-5zM473 336h5v20h-5zM481 355h5v35h-5zM489 397h5v2h-5zM497 398h5v44h-5zM505 441h5v17h-5zM513 396h5v62h-5zM521 396h5v41h-5zM529 434h5v10h-5zM537 434h5v12h-5zM545 360h5v86h-5zM553 362h5v68h-5zM561 358h5v73h-5zM569 301h5v55h-5zM577 301h5v2h-5zM585 303h5v19h-5zM593 321h5v9h-5zM601 330h5v42h-5zM609 381h5v46h-5zM617 426h5v27h-5zM625 451h5v5h-5zM633 456h5v4h-5zM641 437h5v23h-5zM649 434h5v29h-5zM657 437h5v26h-5zM665 409h5v29h-5zM673 405h5v5h-5zM681 405h5v7h-5zM689 417h5v45h-5zM697 439h5v23h-5zM705 413h5v29h-5zM713 343h5v71h-5zM721 343h5v12h-5zM729 329h5v58h-5zM737 386h5v10h-5zM745 343h5v52h-5z"/>
<path fill="#000" d="M3 60h2v13h-2zM34 115h3v3h-3zM50 144h3v22h-3zM82 176h3v1h-3zM98 161h3v5h-3zM106 134h3v27h-3zM130 189h3v13h-3zM154 168h3v23h-3zM162 123h3v43h-3zM178 144h3v4h-3zM194 116h3v36h-3zM202 112h3v11h-3zM250 277h3v23h-3zM258 270h3v6h-3zM282 358h3v8h-3zM290 344h3v25h-3zM314 347h3v24h-3zM322 343h3v3h-3zM330 345h3v20h-3zM354 382h3v10h-3zM362 367h3v14h-3zM378 336h3v24h-3zM402 323h3v27h-3zM418 328h3v15h-3zM426 298h3v29h-3zM442 338h3v7h-3zM458 337h3v28h-3zM514 397h3v60h-3zM530 435h3v8h-3zM546 361h3v84h-3zM562 359h3v71h-3zM570 302h3v53h-3zM642 438h3v21h-3zM658 438h3v24h-3zM666 410h3v27h-3zM674 406h3v3h-3zM698 440h3v21h-3zM706 414h3v27h-3zM714 344h3v69h-3zM746 344h3v50h-3z"/>
<path fill="#FFF" d="M10 60h3v29h-3zM18 84h3v16h-3zM26 99h3v20h-3zM42 115h3v53h-3zM58 144h3v11h-3zM66 157h3v6h-3zM74 162h3v16h-3zM114 134h3v4h-3zM122 144h3v44h-3zM146 189h3v2h-3zM170 119h3v29h-3zM186 144h3v9h-3zM210 113h3v6h-3zM218 120h3v20h-3zM226 140h3v49h-3zM234 189h3v31h-3zM242 221h3v65h-3zM266 270h3v26h-3zM274 297h3v69h-3zM298 344h3v6h-3zM306 351h3v20h-3zM338 345h3v16h-3zM346 362h3v29h-3zM386 336h3v3h-3zM394 340h3v9h-3zM410 319h3v24h-3zM434 298h3v47h-3zM450 344h3v20h-3zM474 337h3v18h-3zM482 356h3v33h-3zM498 399h3v42h-3zM506 442h3v15h-3zM522 397h3v39h-3zM538 435h3v10h-3zM554 363h3v66h-3zM586 304h3v17h-3zM594 322h3v7h-3zM602 331h3v40h-3zM610 382h3v44h-3zM618 427h3v25h-3zM626 452h3v3h-3zM634 457h3v2h-3zM650 435h3v27h-3zM682 406h3v5h-3zM690 418h3v43h-3zM722 344h3v10h-3zM730 330h3v56h-3zM738 387h3v8h-3z"/>
<path fill="#32CD32" d="M415 513h14v1h-14zM410 514h5v1h-5zM429 514h2v1h-2zM579 514h5v1h-5zM404 515h6v1h-6zM431 515h1v1h-1zM578 515h1v1h-1zM584 515h5v1h-5zM400 516h4v1h-4zM432 516h1v1h-1zM577 516h1v1h-1zM589 516h3v1h-3zM723 516h5v1h-5zM398 517h2v1h-2zM433 517h1v1h-1zM576 517h1v1h-1zM592 517h2v1h-2zM721 517h2v1h-2zM728 517h4v1h-4zM396 518h2v1h-2zM434 518h1v1h-1zM574 518h2v1h-2zM594 518h3v1h-3zM719 518h2v1h-2zM732 518h2v1h-2zM393 519h3v1h-3zM435 519h1v1h-1zM573 519h1v1h-1zM597 519h2v1h-2zM717 519h2v1h-2zM734 519h1v1h-1zM209 520h4v1h-4zM389 520h4v1h-4zM436 520h1v1h-1zM572 520h1v1h-1zM599 520h2v1h-2zM715 520h2v1h-2zM735 520h1v1h-1zM175 521h6v1h-6zM205 521h4v1h-4zM213 521h4v1h-4zM385 521h4v1h-4zM437 521h1v1h-1zM570 521h2v1h-2zM601 521h2v1h-2zM714 521h1v1h-1zM736 521h2v1h-2zM171 522h4v1h-4zM181 522h2v1h-2zM201 522h4v1h-4zM217 522h3v1h-3zM382 522h3v1h-3zM438 522h1v1h-1zM568 522h2v1h-2zM603 522h1v1h-1zM713 522h1v1h-1zM738 522h1v1h-1zM743 522h4v1h-4zM169 523h2v1h-2zM183 523h1v1h-1zM197 523h4v1h-4zM220 523h1v1h-1zM380 523h2v1h-2zM439 523h1v1h-1zM566 523h2v1h-2zM604 523h1v1h-1zM684 523h3v1h-3zM712 523h1v1h-1zM739 523h4v1h-4zM167 524h2v1h-2zM184 524h1v1h-1zM193 524h4v1h-4zM221 524h1v1h-1zM377 524h3v1h-3zM440 524h2v1h-2zM564 524h2v1h-2zM605 524h1v1h-1zM683 524h1v1h-1zM687 524h4v1h-4zM711 524h1v1h-1zM165 525h2v1h-2zM185 525h2v1h-2zM190 525h3v1h-3zM222 525h1v1h-1zM375 525h2v1h-2zM442 525h1v1h-1zM563 525h1v1h-1zM606 525h1v1h-1zM681 525h2v1h-2zM691 525h2v1h-2zM711 525h1v1h-1zM163 526h2v1h-2zM187 526h3v1h-3zM222 526h1v1h-1zM373 526h2v1h-2zM443 526h1v1h-1zM562 526h1v1h-1zM607 526h1v1h-1zM680 526h1v1h-1zM693 526h2v1h-2zM710 526h1v1h-1zM162 527h1v1h-1zM223 527h1v1h-1zM371 527h2v1h-2zM444 527h1v1h-1zM561 527h1v1h-1zM607 527h1v1h-1zM679 527h1v1h-1zM695 527h2v1h-2zM709 527h1v1h-1zM115 528h6v1h-6zM161 528h1v1h-1zM224 528h1v1h-1zM369 528h2v1h-2zM445 528h1v1h-1zM559 528h2v1h-2zM608 528h1v1h-1zM677 528h2v1h-2zM697 528h2v1h-2zM708 528h1v1h-1zM114 529h1v1h-1zM121 529h2v1h-2zM160 529h1v1h-1zM225 529h1v1h-1zM367 529h2v1h-2zM446 529h1v1h-1zM558 529h1v1h-1zM609 529h1v1h-1zM676 529h1v1h-1zM699 529h9v1h-9zM113 530h1v1h-1zM123 530h1v1h-1zM159 530h1v1h-1zM226 530h1v1h-1zM334 530h10v1h-10zM365 530h2v1h-2zM446 530h1v1h-1zM557 530h1v1h-1zM610 530h1v1h-1zM675 530h1v1h-1zM112 531h1v1h-1zM124 531h2v1h-2zM159 531h1v1h-1zM227 531h1v1h-1zM328 531h6v1h-6zM344 531h21v1h-21zM447 531h1v1h-1zM556 531h1v1h-1zM611 531h1v1h-1zM674 531h1v1h-1zM110 532h2v1h-2zM126 532h1v1h-1zM158 532h1v1h-1zM228 532h1v1h-1zM324 532h4v1h-4zM448 532h1v1h-1zM552 532h4v1h-4zM612 532h1v1h-1zM673 532h1v1h-1zM109 533h1v1h-1zM127 533h1v1h-1zM157 533h1v1h-1zM228 533h1v1h-1zM320 533h4v1h-4zM449 533h1v1h-1zM547 533h5v1h-5zM613 533h1v1h-1zM672 533h1v1h-1zM108 534h1v1h-1zM128 534h2v1h-2zM156 534h1v1h-1zM229 534h1v1h-1zM316 534h4v1h-4zM449 534h1v1h-1zM472 534h5v1h-5zM546 534h1v1h-1zM614 534h1v1h-1zM670 534h2v1h-2zM107 535h1v1h-1zM130 535h1v1h-1zM154 535h2v1h-2zM230 535h1v1h-1zM313 535h3v1h-3zM450 535h1v1h-1zM455 535h17v1h-17zM477 535h2v1h-2zM545 535h1v1h-1zM615 535h1v1h-1zM669 535h1v1h-1zM106 536h1v1h-1zM131 536h1v1h-1zM152 536h2v1h-2zM231 536h1v1h-1zM311 536h2v1h-2zM451 536h4v1h-4zM479 536h1v1h-1zM530 536h3v1h-3zM544 536h1v1h-1zM615 536h1v1h-1zM668 536h1v1h-1zM105 537h1v1h-1zM132 537h2v1h-2zM150 537h2v1h-2zM232 537h1v1h-1zM309 537h2v1h-2zM479 537h1v1h-1zM526 537h4v1h-4zM533 537h2v1h-2zM542 537h2v1h-2zM616 537h1v1h-1zM666 537h2v1h-2zM104 538h1v1h-1zM134 538h2v1h-2zM147 538h3v1h-3zM233 538h1v1h-1zM307 538h2v1h-2zM480 538h2v1h-2zM520 538h6v1h-6zM535 538h2v1h-2zM541 538h1v1h-1zM617 538h1v1h-1zM664 538h2v1h-2zM102 539h2v1h-2zM136 539h1v1h-1zM145 539h2v1h-2zM233 539h1v1h-1zM304 539h3v1h-3zM482 539h2v1h-2zM515 539h5v1h-5zM537 539h2v1h-2zM540 539h1v1h-1zM618 539h1v1h-1zM661 539h3v1h-3zM101 540h1v1h-1zM137 540h2v1h-2zM142 540h3v1h-3zM234 540h1v1h-1zM300 540h4v1h-4zM484 540h2v1h-2zM514 540h1v1h-1zM539 540h1v1h-1zM619 540h1v1h-1zM658 540h3v1h-3zM6 541h12v1h-12zM100 541h1v1h-1zM139 541h3v1h-3zM235 541h1v1h-1zM297 541h3v1h-3zM486 541h2v1h-2zM513 541h1v1h-1zM620 541h2v1h-2zM654 541h4v1h-4zM3 542h3v1h-3zM18 542h4v1h-4zM98 542h2v1h-2zM236 542h2v1h-2zM295 542h2v1h-2zM488 542h1v1h-1zM512 542h1v1h-1zM622 542h1v1h-1zM648 542h6v1h-6zM22 543h2v1h-2zM61 543h9v1h-9zM96 543h2v1h-2zM238 543h2v1h-2zM293 543h2v1h-2zM489 543h2v1h-2zM510 543h2v1h-2zM623 543h1v1h-1zM642 543h6v1h-6zM24 544h2v1h-2zM55 544h6v1h-6zM70 544h2v1h-2zM93 544h3v1h-3zM240 544h2v1h-2zM252 544h7v1h-7zM267 544h7v1h-7zM290 544h3v1h-3zM491 544h2v1h-2zM509 544h1v1h-1zM624 544h2v1h-2zM640 544h2v1h-2zM26 545h2v1h-2zM51 545h4v1h-4zM72 545h6v1h-6zM89 545h4v1h-4zM242 545h2v1h-2zM246 545h6v1h-6zM259 545h8v1h-8zM274 545h4v1h-4zM287 545h3v1h-3zM493 545h3v1h-3zM508 545h1v1h-1zM626 545h1v1h-1zM637 545h3v1h-3zM28 546h3v1h-3zM47 546h4v1h-4zM78 546h11v1h-11zM244 546h2v1h-2zM278 546h9v1h-9zM496 546h2v1h-2zM504 546h4v1h-4zM627 546h10v1h-10zM31 547h16v1h-16zM498 547h6v1h-6z"/>
<path fill="#FF0000" d="M417 514h17v1h-17zM414 515h3v1h-3zM434 515h4v1h-4zM411 516h3v1h-3zM438 516h2v1h-2zM592 516h5v1h-5zM408 517h3v1h-3zM440 517h2v1h-2zM586 517h6v1h-6zM597 517h3v1h-3zM405 518h3v1h-3zM442 518h1v1h-1zM584 518h2v1h-2zM600 518h2v1h-2zM730 518h11v1h-11zM402 519h3v1h-3zM443 519h1v1h-1zM581 519h3v1h-3zM602 519h2v1h-2zM728 519h2v1h-2zM741 519h2v1h-2zM398 520h4v1h-4zM444 520h1v1h-1zM579 520h2v1h-2zM604 520h2v1h-2zM725 520h3v1h-3zM743 520h2v1h-2zM394 521h4v1h-4zM445 521h1v1h-1zM577 521h2v1h-2zM606 521h1v1h-1zM723 521h2v1h-2zM745 521h2v1h-2zM210 522h11v1h-11zM391 522h3v1h-3zM446 522h1v1h-1zM576 522h1v1h-1zM607 522h2v1h-2zM721 522h2v1h-2zM180 523h18v1h-18zM206 523h4v1h-4zM221 523h2v1h-2zM389 523h2v1h-2zM446 523h1v1h-1zM574 523h2v1h-2zM609 523h1v1h-1zM719 523h2v1h-2zM178 524h2v1h-2zM198 524h8v1h-8zM223 524h2v1h-2zM387 524h2v1h-2zM447 524h1v1h-1zM572 524h2v1h-2zM610 524h1v1h-1zM717 524h2v1h-2zM176 525h2v1h-2zM225 525h2v1h-2zM385 525h2v1h-2zM448 525h1v1h-1zM571 525h1v1h-1zM611 525h2v1h-2zM714 525h3v1h-3zM174 526h2v1h-2zM227 526h1v1h-1zM383 526h2v1h-2zM449 526h1v1h-1zM569 526h2v1h-2zM613 526h1v1h-1zM691 526h11v1h-11zM712 526h2v1h-2zM172 527h2v1h-2zM228 527h2v1h-2zM381 527h2v1h-2zM450 527h1v1h-1zM568 527h1v1h-1zM614 527h1v1h-1zM689 527h2v1h-2zM702 527h4v1h-4zM709 527h3v1h-3zM171 528h1v1h-1zM230 528h1v1h-1zM378 528h3v1h-3zM451 528h1v1h-1zM567 528h1v1h-1zM615 528h1v1h-1zM687 528h2v1h-2zM706 528h3v1h-3zM169 529h2v1h-2zM231 529h1v1h-1zM374 529h4v1h-4zM452 529h2v1h-2zM565 529h2v1h-2zM616 529h2v1h-2zM685 529h2v1h-2zM168 530h1v1h-1zM232 530h2v1h-2zM368 530h6v1h-6zM454 530h2v1h-2zM564 530h1v1h-1zM618 530h1v1h-1zM684 530h1v1h-1zM123 531h5v1h-5zM166 531h2v1h-2zM234 531h1v1h-1zM338 531h30v1h-30zM456 531h1v1h-1zM562 531h2v1h-2zM619 531h1v1h-1zM682 531h2v1h-2zM121 532h2v1h-2zM128 532h5v1h-5zM164 532h2v1h-2zM235 532h1v1h-1zM334 532h4v1h-4zM457 532h2v1h-2zM560 532h2v1h-2zM620 532h1v1h-1zM681 532h1v1h-1zM119 533h2v1h-2zM133 533h2v1h-2zM163 533h1v1h-1zM236 533h1v1h-1zM330 533h4v1h-4zM459 533h3v1h-3zM558 533h2v1h-2zM621 533h1v1h-1zM679 533h2v1h-2zM117 534h2v1h-2zM135 534h2v1h-2zM161 534h2v1h-2zM237 534h1v1h-1zM327 534h3v1h-3zM462 534h4v1h-4zM554 534h4v1h-4zM622 534h2v1h-2zM678 534h1v1h-1zM115 535h2v1h-2zM137 535h2v1h-2zM160 535h1v1h-1zM238 535h1v1h-1zM323 535h4v1h-4zM466 535h16v1h-16zM550 535h4v1h-4zM624 535h1v1h-1zM676 535h2v1h-2zM114 536h1v1h-1zM139 536h2v1h-2zM158 536h2v1h-2zM239 536h1v1h-1zM320 536h3v1h-3zM482 536h4v1h-4zM546 536h4v1h-4zM625 536h1v1h-1zM675 536h1v1h-1zM112 537h2v1h-2zM141 537h3v1h-3zM156 537h2v1h-2zM240 537h1v1h-1zM316 537h4v1h-4zM486 537h2v1h-2zM542 537h4v1h-4zM626 537h1v1h-1zM673 537h2v1h-2zM110 538h2v1h-2zM144 538h2v1h-2zM152 538h4v1h-4zM241 538h1v1h-1zM313 538h3v1h-3zM488 538h2v1h-2zM530 538h12v1h-12zM627 538h1v1h-1zM671 538h2v1h-2zM109 539h1v1h-1zM146 539h6v1h-6zM242 539h1v1h-1zM311 539h2v1h-2zM490 539h2v1h-2zM528 539h2v1h-2zM628 539h2v1h-2zM669 539h2v1h-2zM107 540h2v1h-2zM243 540h2v1h-2zM309 540h2v1h-2zM492 540h2v1h-2zM525 540h3v1h-3zM630 540h1v1h-1zM666 540h3v1h-3zM105 541h2v1h-2zM245 541h2v1h-2zM307 541h2v1h-2zM494 541h2v1h-2zM522 541h3v1h-3zM631 541h1v1h-1zM662 541h4v1h-4zM16 542h6v1h-6zM103 542h2v1h-2zM247 542h2v1h-2zM305 542h2v1h-2zM496 542h1v1h-1zM520 542h2v1h-2zM632 542h2v1h-2zM658 542h4v1h-4zM9 543h7v1h-7zM22 543h4v1h-4zM101 543h2v1h-2zM249 543h4v1h-4zM301 543h4v1h-4zM497 543h2v1h-2zM517 543h3v1h-3zM634 543h1v1h-1zM654 543h4v1h-4zM5 544h4v1h-4zM26 544h5v1h-5zM58 544h19v1h-19zM99 544h2v1h-2zM253 544h30v1h-30zM296 544h5v1h-5zM499 544h3v1h-3zM514 544h3v1h-3zM635 544h5v1h-5zM648 544h6v1h-6zM3 545h2v1h-2zM31 545h6v1h-6zM51 545h7v1h-7zM77 545h9v1h-9zM94 545h5v1h-5zM283 545h13v1h-13zM502 545h4v1h-4zM510 545h4v1h-4zM640 545h8v1h-8zM37 546h6v1h-6zM47 546h4v1h-4zM86 546h8v1h-8zM506 546h4v1h-4zM43 547h4v1h-4z"/>
<path fill="#32CD32" d="M569 571h19v1h-19zM715 571h6v1h-6zM745 571h2v1h-2zM567 572h2v1h-2zM588 572h6v1h-6zM712 572h3v1h-3zM721 572h5v1h-5zM743 572h2v1h-2zM199 573h10v1h-10zM426 573h3v1h-3zM565 573h2v1h-2zM594 573h4v1h-4zM710 573h2v1h-2zM726 573h3v1h-3zM741 573h2v1h-2zM163 574h2v1h-2zM194 574h5v1h-5zM209 574h4v1h-4zM424 574h2v1h-2zM429 574h2v1h-2zM547 574h2v1h-2zM563 574h2v1h-2zM598 574h4v1h-4zM707 574h3v1h-3zM729 574h12v1h-12zM161 575h2v1h-2zM165 575h2v1h-2zM192 575h2v1h-2zM213 575h4v1h-4zM421 575h3v1h-3zM431 575h2v1h-2zM546 575h1v1h-1zM549 575h2v1h-2zM561 575h2v1h-2zM602 575h4v1h-4zM664 575h22v1h-22zM703 575h4v1h-4zM159 576h2v1h-2zM167 576h2v1h-2zM190 576h2v1h-2zM217 576h2v1h-2zM402 576h3v1h-3zM417 576h4v1h-4zM433 576h2v1h-2zM440 576h5v1h-5zM456 576h18v1h-18zM544 576h2v1h-2zM551 576h2v1h-2zM559 576h2v1h-2zM606 576h4v1h-4zM660 576h4v1h-4zM686 576h3v1h-3zM699 576h4v1h-4zM158 577h1v1h-1zM169 577h21v1h-21zM219 577h3v1h-3zM400 577h2v1h-2zM405 577h4v1h-4zM413 577h4v1h-4zM435 577h5v1h-5zM445 577h4v1h-4zM453 577h3v1h-3zM474 577h4v1h-4zM543 577h1v1h-1zM553 577h2v1h-2zM557 577h2v1h-2zM610 577h3v1h-3zM657 577h3v1h-3zM689 577h2v1h-2zM695 577h4v1h-4zM156 578h2v1h-2zM222 578h2v1h-2zM377 578h16v1h-16zM397 578h3v1h-3zM409 578h4v1h-4zM449 578h4v1h-4zM478 578h2v1h-2zM516 578h2v1h-2zM542 578h1v1h-1zM555 578h2v1h-2zM613 578h3v1h-3zM640 578h9v1h-9zM653 578h4v1h-4zM691 578h4v1h-4zM154 579h2v1h-2zM224 579h2v1h-2zM375 579h2v1h-2zM393 579h4v1h-4zM480 579h2v1h-2zM514 579h2v1h-2zM518 579h4v1h-4zM540 579h2v1h-2zM616 579h24v1h-24zM649 579h4v1h-4zM107 580h10v1h-10zM152 580h2v1h-2zM226 580h4v1h-4zM373 580h2v1h-2zM482 580h12v1h-12zM512 580h2v1h-2zM522 580h18v1h-18zM105 581h2v1h-2zM117 581h2v1h-2zM151 581h1v1h-1zM230 581h4v1h-4zM361 581h12v1h-12zM494 581h2v1h-2zM510 581h2v1h-2zM103 582h2v1h-2zM119 582h2v1h-2zM149 582h2v1h-2zM234 582h4v1h-4zM313 582h24v1h-24zM357 582h4v1h-4zM496 582h2v1h-2zM508 582h2v1h-2zM5 583h4v1h-4zM101 583h2v1h-2zM121 583h23v1h-23zM147 583h2v1h-2zM238 583h2v1h-2zM258 583h7v1h-7zM311 583h2v1h-2zM337 583h6v1h-6zM351 583h6v1h-6zM498 583h10v1h-10zM3 584h2v1h-2zM9 584h4v1h-4zM96 584h5v1h-5zM144 584h3v1h-3zM240 584h2v1h-2zM249 584h9v1h-9zM265 584h5v1h-5zM290 584h15v1h-15zM308 584h3v1h-3zM343 584h8v1h-8zM13 585h13v1h-13zM50 585h25v1h-25zM90 585h6v1h-6zM242 585h7v1h-7zM270 585h4v1h-4zM286 585h4v1h-4zM305 585h3v1h-3zM26 586h13v1h-13zM48 586h2v1h-2zM75 586h15v1h-15zM274 586h12v1h-12zM39 587h4v1h-4zM46 587h2v1h-2zM43 588h3v1h-3z"/>
<path fill="#1E90FF" d="M746 603h1v1h-1zM745 604h1v1h-1zM743 605h2v1h-2zM742 606h1v1h-1zM741 607h1v1h-1zM724 608h3v1h-3zM739 608h2v1h-2zM594 609h2v1h-2zM722 609h2v1h-2zM727 609h12v1h-12zM195 610h12v1h-12zM459 610h3v1h-3zM592 610h2v1h-2zM596 610h2v1h-2zM720 610h2v1h-2zM193 611h2v1h-2zM207 611h4v1h-4zM419 611h9v1h-9zM458 611h1v1h-1zM462 611h5v1h-5zM590 611h2v1h-2zM598 611h2v1h-2zM718 611h2v1h-2zM191 612h2v1h-2zM211 612h2v1h-2zM417 612h2v1h-2zM428 612h2v1h-2zM456 612h2v1h-2zM467 612h3v1h-3zM588 612h2v1h-2zM600 612h1v1h-1zM716 612h2v1h-2zM189 613h2v1h-2zM213 613h1v1h-1zM416 613h1v1h-1zM430 613h1v1h-1zM455 613h1v1h-1zM470 613h2v1h-2zM570 613h18v1h-18zM601 613h2v1h-2zM715 613h1v1h-1zM184 614h5v1h-5zM214 614h1v1h-1zM387 614h3v1h-3zM402 614h4v1h-4zM414 614h2v1h-2zM431 614h2v1h-2zM454 614h1v1h-1zM472 614h2v1h-2zM568 614h2v1h-2zM603 614h5v1h-5zM667 614h1v1h-1zM714 614h1v1h-1zM160 615h8v1h-8zM176 615h8v1h-8zM215 615h2v1h-2zM386 615h1v1h-1zM390 615h4v1h-4zM398 615h4v1h-4zM406 615h4v1h-4zM412 615h2v1h-2zM433 615h1v1h-1zM452 615h2v1h-2zM474 615h1v1h-1zM565 615h3v1h-3zM608 615h7v1h-7zM666 615h1v1h-1zM668 615h1v1h-1zM714 615h1v1h-1zM156 616h4v1h-4zM168 616h8v1h-8zM217 616h1v1h-1zM385 616h1v1h-1zM394 616h4v1h-4zM410 616h2v1h-2zM434 616h2v1h-2zM440 616h12v1h-12zM475 616h2v1h-2zM563 616h2v1h-2zM615 616h4v1h-4zM666 616h1v1h-1zM669 616h1v1h-1zM713 616h1v1h-1zM155 617h1v1h-1zM218 617h1v1h-1zM384 617h1v1h-1zM436 617h4v1h-4zM477 617h1v1h-1zM562 617h1v1h-1zM619 617h1v1h-1zM641 617h5v1h-5zM665 617h1v1h-1zM670 617h1v1h-1zM713 617h1v1h-1zM154 618h1v1h-1zM219 618h1v1h-1zM383 618h1v1h-1zM478 618h2v1h-2zM562 618h1v1h-1zM620 618h1v1h-1zM639 618h2v1h-2zM646 618h4v1h-4zM665 618h1v1h-1zM671 618h1v1h-1zM712 618h1v1h-1zM153 619h1v1h-1zM220 619h1v1h-1zM382 619h1v1h-1zM480 619h2v1h-2zM547 619h1v1h-1zM561 619h1v1h-1zM621 619h1v1h-1zM636 619h3v1h-3zM650 619h1v1h-1zM664 619h1v1h-1zM672 619h1v1h-1zM712 619h1v1h-1zM152 620h1v1h-1zM221 620h2v1h-2zM234 620h2v1h-2zM381 620h1v1h-1zM482 620h2v1h-2zM547 620h2v1h-2zM561 620h1v1h-1zM622 620h2v1h-2zM634 620h2v1h-2zM651 620h1v1h-1zM663 620h1v1h-1zM673 620h1v1h-1zM711 620h1v1h-1zM151 621h1v1h-1zM223 621h2v1h-2zM232 621h2v1h-2zM236 621h1v1h-1zM380 621h1v1h-1zM484 621h2v1h-2zM546 621h1v1h-1zM549 621h1v1h-1zM560 621h1v1h-1zM624 621h1v1h-1zM632 621h2v1h-2zM652 621h1v1h-1zM663 621h1v1h-1zM674 621h1v1h-1zM710 621h1v1h-1zM151 622h1v1h-1zM225 622h2v1h-2zM229 622h3v1h-3zM237 622h1v1h-1zM379 622h1v1h-1zM486 622h2v1h-2zM546 622h1v1h-1zM549 622h1v1h-1zM559 622h1v1h-1zM625 622h1v1h-1zM630 622h2v1h-2zM653 622h2v1h-2zM662 622h1v1h-1zM675 622h1v1h-1zM710 622h1v1h-1zM150 623h1v1h-1zM227 623h2v1h-2zM238 623h1v1h-1zM378 623h1v1h-1zM488 623h2v1h-2zM545 623h1v1h-1zM550 623h1v1h-1zM559 623h1v1h-1zM626 623h1v1h-1zM628 623h2v1h-2zM655 623h1v1h-1zM661 623h1v1h-1zM676 623h1v1h-1zM709 623h1v1h-1zM106 624h3v1h-3zM149 624h1v1h-1zM239 624h1v1h-1zM376 624h2v1h-2zM490 624h2v1h-2zM545 624h1v1h-1zM551 624h1v1h-1zM558 624h1v1h-1zM627 624h1v1h-1zM656 624h1v1h-1zM661 624h1v1h-1zM677 624h1v1h-1zM709 624h1v1h-1zM104 625h2v1h-2zM109 625h3v1h-3zM148 625h1v1h-1zM240 625h1v1h-1zM375 625h1v1h-1zM492 625h1v1h-1zM544 625h1v1h-1zM552 625h1v1h-1zM557 625h1v1h-1zM657 625h1v1h-1zM660 625h1v1h-1zM678 625h1v1h-1zM708 625h1v1h-1zM101 626h3v1h-3zM112 626h2v1h-2zM136 626h12v1h-12zM241 626h1v1h-1zM374 626h1v1h-1zM493 626h2v1h-2zM515 626h2v1h-2zM544 626h1v1h-1zM553 626h1v1h-1zM557 626h1v1h-1zM658 626h1v1h-1zM660 626h1v1h-1zM679 626h1v1h-1zM708 626h1v1h-1zM99 627h2v1h-2zM114 627h4v1h-4zM132 627h4v1h-4zM242 627h1v1h-1zM255 627h4v1h-4zM372 627h2v1h-2zM495 627h1v1h-1zM513 627h2v1h-2zM517 627h3v1h-3zM543 627h1v1h-1zM553 627h1v1h-1zM556 627h1v1h-1zM659 627h1v1h-1zM680 627h1v1h-1zM707 627h1v1h-1zM96 628h3v1h-3zM118 628h4v1h-4zM127 628h5v1h-5zM243 628h1v1h-1zM248 628h7v1h-7zM259 628h2v1h-2zM359 628h13v1h-13zM496 628h1v1h-1zM512 628h1v1h-1zM520 628h2v1h-2zM543 628h1v1h-1zM554 628h1v1h-1zM556 628h1v1h-1zM681 628h1v1h-1zM705 628h2v1h-2zM94 629h2v1h-2zM122 629h5v1h-5zM244 629h4v1h-4zM261 629h2v1h-2zM355 629h4v1h-4zM497 629h2v1h-2zM510 629h2v1h-2zM522 629h5v1h-5zM542 629h1v1h-1zM555 629h1v1h-1zM682 629h1v1h-1zM703 629h2v1h-2zM91 630h3v1h-3zM263 630h2v1h-2zM354 630h1v1h-1zM499 630h5v1h-5zM508 630h2v1h-2zM527 630h3v1h-3zM542 630h1v1h-1zM683 630h1v1h-1zM701 630h2v1h-2zM89 631h2v1h-2zM265 631h2v1h-2zM353 631h1v1h-1zM504 631h4v1h-4zM530 631h2v1h-2zM541 631h1v1h-1zM684 631h1v1h-1zM699 631h2v1h-2zM86 632h3v1h-3zM267 632h1v1h-1zM352 632h1v1h-1zM532 632h2v1h-2zM541 632h1v1h-1zM685 632h1v1h-1zM698 632h1v1h-1zM83 633h3v1h-3zM268 633h1v1h-1zM351 633h1v1h-1zM534 633h1v1h-1zM540 633h1v1h-1zM686 633h1v1h-1zM696 633h2v1h-2zM81 634h2v1h-2zM268 634h1v1h-1zM351 634h1v1h-1zM535 634h2v1h-2zM540 634h1v1h-1zM687 634h2v1h-2zM695 634h1v1h-1zM78 635h3v1h-3zM269 635h1v1h-1zM350 635h1v1h-1zM537 635h3v1h-3zM689 635h1v1h-1zM694 635h1v1h-1zM74 636h4v1h-4zM269 636h1v1h-1zM349 636h1v1h-1zM539 636h1v1h-1zM690 636h1v1h-1zM692 636h2v1h-2zM3 637h1v1h-1zM68 637h6v1h-6zM270 637h1v1h-1zM348 637h1v1h-1zM691 637h1v1h-1zM4 638h1v1h-1zM25 638h12v1h-12zM62 638h6v1h-6zM270 638h1v1h-1zM339 638h9v1h-9zM5 639h2v1h-2zM22 639h3v1h-3zM37 639h2v1h-2zM49 639h13v1h-13zM271 639h1v1h-1zM337 639h2v1h-2zM7 640h1v1h-1zM19 640h3v1h-3zM39 640h2v1h-2zM45 640h4v1h-4zM271 640h1v1h-1zM335 640h2v1h-2zM8 641h1v1h-1zM14 641h5v1h-5zM41 641h4v1h-4zM272 641h1v1h-1zM295 641h4v1h-4zM333 641h2v1h-2zM9 642h5v1h-5zM272 642h1v1h-1zM288 642h7v1h-7zM299 642h2v1h-2zM329 642h4v1h-4zM273 643h1v1h-1zM283 643h5v1h-5zM301 643h1v1h-1zM325 643h4v1h-4zM273 644h1v1h-1zM281 644h2v1h-2zM302 644h2v1h-2zM321 644h4v1h-4zM274 645h1v1h-1zM279 645h2v1h-2zM304 645h1v1h-1zM317 645h4v1h-4zM274 646h1v1h-1zM277 646h2v1h-2zM305 646h1v1h-1zM314 646h3v1h-3zM275 647h2v1h-2zM306 647h2v1h-2zM310 647h4v1h-4zM308 648h2v1h-2z"/>
<path fill="#FF0000" d="M2 2h947v1h-947zM2 504h947v1h-947zM2 2h1v503h-1zM948 2h1v503h-1zM2 506h947v1h-947zM2 550h947v1h-947zM2 506h1v45h-1zM948 506h1v45h-1zM2 552h947v1h-947zM2 596h947v1h-947zM2 552h1v45h-1zM948 552h1v45h-1zM2 598h947v1h-947zM2 650h947v1h-947zM2 598h1v53h-1zM948 598h1v53h-1zM949 6h2v1h-2zM949 39h2v1h-2zM949 72h2v1h-2zM949 105h2v1h-2zM949 138h2v1h-2zM949 171h2v1h-2zM949 204h2v1h-2zM949 237h2v1h-2zM949 270h2v1h-2zM949 303h2v1h-2zM949 336h2v1h-2zM949 369h2v1h-2zM949 402h2v1h-2zM949 435h2v1h-2zM949 468h2v1h-2zM949 501h2v1h-2zM949 508h1v1h-1zM949 549h1v1h-1zM949 554h1v1h-1zM949 595h1v1h-1zM949 600h1v1h-1zM3 651h1v4h-1zM67 651h1v4h-1zM131 651h1v4h-1zM195 651h1v4h-1zM259 651h1v4h-1zM323 651h1v4h-1zM387 651h1v4h-1zM451 651h1v4h-1zM515 651h1v4h-1zM579 651h1v4h-1zM643 651h1v4h-1zM707 651h1v4h-1z"/>
<path fill="#AAAAAA" d="M948 516h1v1h-1zM948 541h1v1h-1zM948 566h1v1h-1zM948 583h1v1h-1zM948 617h1v1h-1z"/>
<path fill="#FF0000" d="M6 9h7v1h-7zM7 10h5v1h-5zM8 11h3v1h-3zM9 12h1v1h-1z"/>
<g font-family="Liberation Sans, sans-serif" font-size="10px" fill="#FF0000" stroke="#FF0000" stroke-width="0.12" text-rendering="geometricPrecision" shape-rendering="auto">
<text x="18.5" y="14" textLength="68" lengthAdjust="spacingAndGlyphs">AUDUSD.,Daily</text>
<text x="93" y="14" textLength="33" lengthAdjust="spacingAndGlyphs">0.77101</text>
<text x="129" y="14" textLength="33" lengthAdjust="spacingAndGlyphs">0.78069</text>
<text x="165" y="14" textLength="33" lengthAdjust="spacingAndGlyphs">0.77053</text>
<text x="201" y="14" textLength="33" lengthAdjust="spacingAndGlyphs">0.78023</text>
<text x="953.5" y="9" textLength="33" lengthAdjust="spacingAndGlyphs">0.84140</text>
<text x="953.5" y="42" textLength="33" lengthAdjust="spacingAndGlyphs">0.83540</text>
<text x="953.5" y="75" textLength="33" lengthAdjust="spacingAndGlyphs">0.82940</text>
<text x="953.5" y="108" textLength="33" lengthAdjust="spacingAndGlyphs">0.82340</text>
<text x="953.5" y="141" textLength="33" lengthAdjust="spacingAndGlyphs">0.81740</text>
<text x="953.5" y="174" textLength="33" lengthAdjust="spacingAndGlyphs">0.81140</text>
<text x="953.5" y="207" textLength="33" lengthAdjust="spacingAndGlyphs">0.80540</text>
<text x="953.5" y="240" textLength="33" lengthAdjust="spacingAndGlyphs">0.79940</text>
<text x="953.5" y="273" textLength="33" lengthAdjust="spacingAndGlyphs">0.79340</text>
<text x="953.5" y="306" textLength="33" lengthAdjust="spacingAndGlyphs">0.78740</text>
<text x="953.5" y="339" textLength="33" lengthAdjust="spacingAndGlyphs">0.78140</text>
<text x="953.5" y="372" textLength="33" lengthAdjust="spacingAndGlyphs">0.77555</text>
<text x="953.5" y="438" textLength="33" lengthAdjust="spacingAndGlyphs">0.76355</text>
<text x="953.5" y="471" textLength="33" lengthAdjust="spacingAndGlyphs">0.75755</text>
<text x="953.5" y="504" textLength="33" lengthAdjust="spacingAndGlyphs">0.75155</text>
<rect x="950" y="211" width="41" height="11" fill="#000" shape-rendering="crispEdges"/>
<text x="953.5" y="220" textLength="33" lengthAdjust="spacingAndGlyphs" fill="#FFF" stroke="#FFF">0.80314</text>
<rect x="950" y="261" width="41" height="11" fill="#000" shape-rendering="crispEdges"/>
<text x="953.5" y="270" textLength="33" lengthAdjust="spacingAndGlyphs" fill="#FFF" stroke="#FFF">0.79407</text>
<rect x="950" y="307" width="41" height="11" fill="#000" shape-rendering="crispEdges"/>
<text x="953.5" y="316" textLength="33" lengthAdjust="spacingAndGlyphs" fill="#FFF" stroke="#FFF">0.78559</text>
<rect x="950" y="394" width="41" height="11" fill="#000" shape-rendering="crispEdges"/>
<text x="953.5" y="403" textLength="33" lengthAdjust="spacingAndGlyphs" fill="#FFF" stroke="#FFF">0.76990</text>
<rect x="950" y="445" width="41" height="11" fill="#000" shape-rendering="crispEdges"/>
<text x="953.5" y="454" textLength="33" lengthAdjust="spacingAndGlyphs" fill="#FFF" stroke="#FFF">0.76066</text>
<rect x="950" y="476" width="41" height="11" fill="#000" shape-rendering="crispEdges"/>
<text x="953.5" y="485" textLength="33" lengthAdjust="spacingAndGlyphs" fill="#FFF" stroke="#FFF">0.75509</text>
<rect x="950" y="337" width="41" height="11" fill="#FF0000" shape-rendering="crispEdges"/>
<text x="953.5" y="346" textLength="33" lengthAdjust="spacingAndGlyphs" fill="#FFF" stroke="#FFF">0.78023</text>
<text x="952" y="517" textLength="15" lengthAdjust="spacingAndGlyphs">100</text>
<text x="951" y="519" textLength="10" lengthAdjust="spacingAndGlyphs">80</text>
<text x="951" y="544" textLength="10" lengthAdjust="spacingAndGlyphs">20</text>
<text x="952" y="548" textLength="5" lengthAdjust="spacingAndGlyphs">0</text>
<text x="952" y="563" textLength="15" lengthAdjust="spacingAndGlyphs">100</text>
<text x="951" y="569" textLength="10" lengthAdjust="spacingAndGlyphs">70</text>
<text x="951" y="586" textLength="10" lengthAdjust="spacingAndGlyphs">30</text>
<text x="952" y="593" textLength="5" lengthAdjust="spacingAndGlyphs">0</text>
<text x="952" y="609" textLength="38" lengthAdjust="spacingAndGlyphs">103.1956</text>
<text x="952" y="620" textLength="15" lengthAdjust="spacingAndGlyphs">100</text>
<text x="952" y="648" textLength="33" lengthAdjust="spacingAndGlyphs">93.9219</text>
<text x="7" y="519" textLength="121" lengthAdjust="spacingAndGlyphs">Stoch(9,3,3) 66.2175 68.9568</text>
<text x="7" y="565" textLength="67.5" lengthAdjust="spacingAndGlyphs">RSI(13) 57.3132</text>
<text x="7" y="611" textLength="103.5" lengthAdjust="spacingAndGlyphs">Momentum(14) 102.7741</text>
<text x="7" y="647" textLength="224.5" lengthAdjust="spacingAndGlyphs">LatAm FX, © 2001-2014, MetaQuotes Software Corp.</text>
<text x="2.2" y="664" textLength="51" lengthAdjust="spacingAndGlyphs">10 Dec 2014</text>
<text x="66.2" y="664" textLength="51.5" lengthAdjust="spacingAndGlyphs">22 Dec 2014</text>
<text x="130.2" y="664" textLength="45" lengthAdjust="spacingAndGlyphs">5 Jan 2015</text>
<text x="194.2" y="664" textLength="49.5" lengthAdjust="spacingAndGlyphs">15 Jan 2015</text>
<text x="258.2" y="664" textLength="50" lengthAdjust="spacingAndGlyphs">27 Jan 2015</text>
<text x="322.2" y="664" textLength="47" lengthAdjust="spacingAndGlyphs">6 Feb 2015</text>
<text x="386.2" y="664" textLength="51.5" lengthAdjust="spacingAndGlyphs">18 Feb 2015</text>
<text x="450.2" y="664" textLength="46.5" lengthAdjust="spacingAndGlyphs">2 Mar 2015</text>
<text x="514.2" y="664" textLength="51.5" lengthAdjust="spacingAndGlyphs">12 Mar 2015</text>
<text x="578.2" y="664" textLength="52" lengthAdjust="spacingAndGlyphs">24 Mar 2015</text>
<text x="642.2" y="664" textLength="45" lengthAdjust="spacingAndGlyphs">3 Apr 2015</text>
<text x="706.2" y="664" textLength="49.5" lengthAdjust="spacingAndGlyphs">15 Apr 2015</text>
</g>
</svg>
</body></html>
